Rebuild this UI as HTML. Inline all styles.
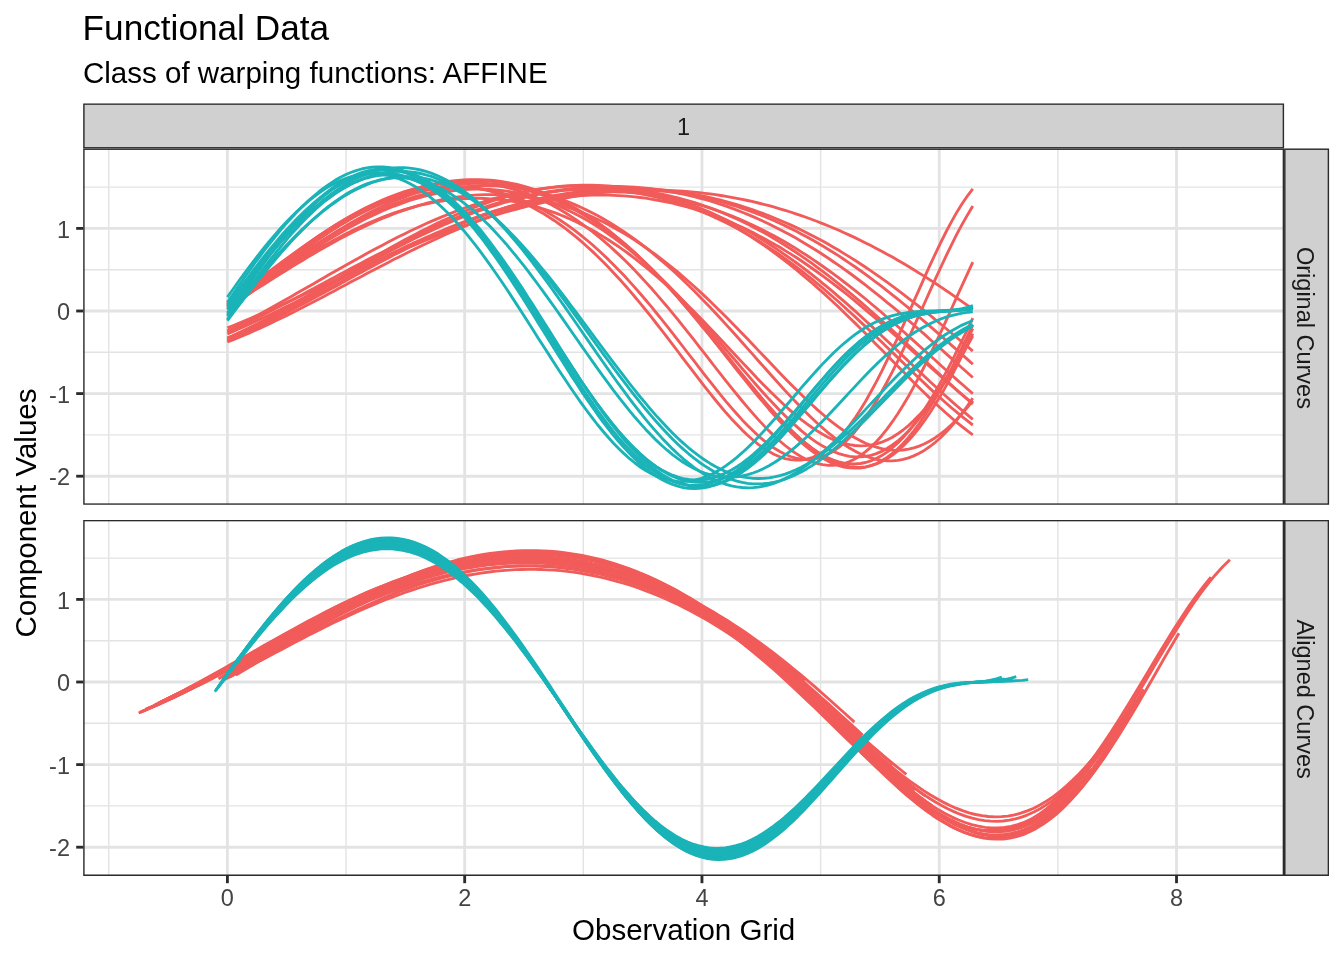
<!DOCTYPE html>
<html><head><meta charset="utf-8"><title>Functional Data</title>
<style>
html,body{margin:0;padding:0;background:#fff;}
svg{display:block;will-change:transform;}
text{font-family:"Liberation Sans",sans-serif;}
.g1{stroke:#E3E3E3;stroke-width:2.85;fill:none;}
.g2{stroke:#E3E3E3;stroke-width:1.4;fill:none;}
.r{stroke:#F15B59;stroke-width:2.85;fill:none;stroke-linejoin:round;}
.c{stroke:#19B3B8;stroke-width:2.85;fill:none;stroke-linejoin:round;}
.tk{stroke:#2B2B2B;stroke-width:2.85;fill:none;}
.tl{font-size:23.5px;fill:#444444;}
.al{font-size:29.55px;fill:#000;}
.st{font-size:23.5px;fill:#1A1A1A;}
</style></head><body>
<svg width="1344" height="960" viewBox="0 0 1344 960">
<rect x="0" y="0" width="1344" height="960" fill="#fff"/>
<defs>
<clipPath id="c1"><rect x="83.2" y="148.5" width="1200.8999999999999" height="356.3"/></clipPath>
<clipPath id="c2"><rect x="83.2" y="519.9" width="1200.8999999999999" height="356.0"/></clipPath>
</defs>

<g clip-path="url(#c1)">
<line class="g2" x1="108.76" x2="108.76" y1="148.5" y2="504.8"/>
<line class="g2" x1="346.04" x2="346.04" y1="148.5" y2="504.8"/>
<line class="g2" x1="583.32" x2="583.32" y1="148.5" y2="504.8"/>
<line class="g2" x1="820.60" x2="820.60" y1="148.5" y2="504.8"/>
<line class="g2" x1="1057.88" x2="1057.88" y1="148.5" y2="504.8"/>
<line class="g2" x1="83.2" x2="1284.1" y1="187.10" y2="187.10"/>
<line class="g2" x1="83.2" x2="1284.1" y1="269.70" y2="269.70"/>
<line class="g2" x1="83.2" x2="1284.1" y1="352.30" y2="352.30"/>
<line class="g2" x1="83.2" x2="1284.1" y1="434.90" y2="434.90"/>
<line class="g1" x1="227.40" x2="227.40" y1="148.5" y2="504.8"/>
<line class="g1" x1="464.68" x2="464.68" y1="148.5" y2="504.8"/>
<line class="g1" x1="701.96" x2="701.96" y1="148.5" y2="504.8"/>
<line class="g1" x1="939.24" x2="939.24" y1="148.5" y2="504.8"/>
<line class="g1" x1="1176.52" x2="1176.52" y1="148.5" y2="504.8"/>
<line class="g1" x1="83.2" x2="1284.1" y1="228.40" y2="228.40"/>
<line class="g1" x1="83.2" x2="1284.1" y1="311.00" y2="311.00"/>
<line class="g1" x1="83.2" x2="1284.1" y1="393.60" y2="393.60"/>
<line class="g1" x1="83.2" x2="1284.1" y1="476.20" y2="476.20"/>
</g>
<g clip-path="url(#c2)">
<line class="g2" x1="108.76" x2="108.76" y1="519.9" y2="875.9"/>
<line class="g2" x1="346.04" x2="346.04" y1="519.9" y2="875.9"/>
<line class="g2" x1="583.32" x2="583.32" y1="519.9" y2="875.9"/>
<line class="g2" x1="820.60" x2="820.60" y1="519.9" y2="875.9"/>
<line class="g2" x1="1057.88" x2="1057.88" y1="519.9" y2="875.9"/>
<line class="g2" x1="83.2" x2="1284.1" y1="558.10" y2="558.10"/>
<line class="g2" x1="83.2" x2="1284.1" y1="640.70" y2="640.70"/>
<line class="g2" x1="83.2" x2="1284.1" y1="723.30" y2="723.30"/>
<line class="g2" x1="83.2" x2="1284.1" y1="805.90" y2="805.90"/>
<line class="g1" x1="227.40" x2="227.40" y1="519.9" y2="875.9"/>
<line class="g1" x1="464.68" x2="464.68" y1="519.9" y2="875.9"/>
<line class="g1" x1="701.96" x2="701.96" y1="519.9" y2="875.9"/>
<line class="g1" x1="939.24" x2="939.24" y1="519.9" y2="875.9"/>
<line class="g1" x1="1176.52" x2="1176.52" y1="519.9" y2="875.9"/>
<line class="g1" x1="83.2" x2="1284.1" y1="599.40" y2="599.40"/>
<line class="g1" x1="83.2" x2="1284.1" y1="682.00" y2="682.00"/>
<line class="g1" x1="83.2" x2="1284.1" y1="764.60" y2="764.60"/>
<line class="g1" x1="83.2" x2="1284.1" y1="847.20" y2="847.20"/>
</g>
<g clip-path="url(#c1)">
<path class="r" d="M227.4,306.0 L232.8,301.9 L238.1,297.7 L243.5,293.5 L248.9,289.3 L254.2,285.0 L259.6,280.8 L264.9,276.5 L270.3,272.3 L275.7,268.1 L281.0,263.9 L286.4,259.8 L291.8,255.7 L297.1,251.7 L302.5,247.7 L307.8,243.8 L313.2,240.0 L318.6,236.3 L323.9,232.7 L329.3,229.1 L334.7,225.7 L340.0,222.4 L345.4,219.2 L350.7,216.2 L356.1,213.2 L361.5,210.4 L366.8,207.7 L372.2,205.2 L377.6,202.8 L382.9,200.6 L388.3,198.5 L393.6,196.6 L399.0,194.8 L404.4,193.2 L409.7,191.8 L415.1,190.5 L420.5,189.4 L425.8,188.4 L431.2,187.7 L436.6,187.1 L441.9,186.7 L447.3,186.4 L452.6,186.4 L458.0,186.5 L463.4,186.8 L468.7,187.3 L474.1,187.9 L479.5,188.8 L484.8,189.8 L490.2,191.1 L495.5,192.5 L500.9,194.1 L506.3,195.9 L511.6,197.9 L517.0,200.0 L522.4,202.4 L527.7,205.0 L533.1,207.7 L538.4,210.7 L543.8,213.8 L549.2,217.2 L554.5,220.7 L559.9,224.5 L565.3,228.4 L570.6,232.6 L576.0,236.9 L581.3,241.4 L586.7,246.2 L592.1,251.1 L597.4,256.2 L602.8,261.5 L608.2,267.0 L613.5,272.7 L618.9,278.5 L624.3,284.5 L629.6,290.6 L635.0,297.0 L640.3,303.4 L645.7,310.0 L651.1,316.7 L656.4,323.5 L661.8,330.4 L667.2,337.4 L672.5,344.4 L677.9,351.5 L683.2,358.6 L688.6,365.6 L694.0,372.7 L699.3,379.7 L704.7,386.6 L710.1,393.4 L715.4,400.0 L720.8,406.5 L726.1,412.8 L731.5,418.9 L736.9,424.6 L742.2,430.1 L747.6,435.2 L753.0,440.0 L758.3,444.3 L763.7,448.2 L769.0,451.6 L774.4,454.5 L779.8,456.8 L785.1,458.6 L790.5,459.7 L795.9,460.2 L801.2,460.0 L806.6,459.1 L812.0,457.5 L817.3,455.2 L822.7,452.1 L828.0,448.3 L833.4,443.8 L838.8,438.5 L844.1,432.4 L849.5,425.7 L854.9,418.2 L860.2,410.0 L865.6,401.2 L870.9,391.8 L876.3,381.9 L881.7,371.4 L887.0,360.4 L892.4,349.1 L897.8,337.5 L903.1,325.6 L908.5,313.5 L913.8,301.4 L919.2,289.3 L924.6,277.2 L929.9,265.4 L935.3,253.9 L940.7,242.7 L946.0,232.0 L951.4,221.9 L956.7,212.4 L962.1,203.7 L967.5,195.8 L972.8,188.8"/>
<path class="r" d="M227.4,307.7 L232.8,303.7 L238.1,299.6 L243.5,295.5 L248.9,291.4 L254.2,287.3 L259.6,283.1 L264.9,278.9 L270.3,274.8 L275.7,270.7 L281.0,266.6 L286.4,262.5 L291.8,258.5 L297.1,254.5 L302.5,250.6 L307.8,246.8 L313.2,243.0 L318.6,239.3 L323.9,235.7 L329.3,232.1 L334.7,228.7 L340.0,225.4 L345.4,222.2 L350.7,219.1 L356.1,216.1 L361.5,213.3 L366.8,210.5 L372.2,207.9 L377.6,205.5 L382.9,203.2 L388.3,201.0 L393.6,199.0 L399.0,197.1 L404.4,195.4 L409.7,193.8 L415.1,192.4 L420.5,191.2 L425.8,190.1 L431.2,189.1 L436.6,188.4 L441.9,187.8 L447.3,187.4 L452.6,187.1 L458.0,187.1 L463.4,187.2 L468.7,187.5 L474.1,187.9 L479.5,188.5 L484.8,189.3 L490.2,190.3 L495.5,191.5 L500.9,192.8 L506.3,194.4 L511.6,196.1 L517.0,198.0 L522.4,200.1 L527.7,202.4 L533.1,204.8 L538.4,207.5 L543.8,210.3 L549.2,213.4 L554.5,216.6 L559.9,220.0 L565.3,223.6 L570.6,227.4 L576.0,231.4 L581.3,235.6 L586.7,240.0 L592.1,244.5 L597.4,249.3 L602.8,254.3 L608.2,259.4 L613.5,264.7 L618.9,270.2 L624.3,275.8 L629.6,281.6 L635.0,287.6 L640.3,293.8 L645.7,300.0 L651.1,306.4 L656.4,313.0 L661.8,319.6 L667.2,326.4 L672.5,333.2 L677.9,340.1 L683.2,347.0 L688.6,354.0 L694.0,360.9 L699.3,367.9 L704.7,374.8 L710.1,381.7 L715.4,388.4 L720.8,395.1 L726.1,401.6 L731.5,407.9 L736.9,414.0 L742.2,419.9 L747.6,425.5 L753.0,430.8 L758.3,435.8 L763.7,440.4 L769.0,444.6 L774.4,448.3 L779.8,451.5 L785.1,454.3 L790.5,456.5 L795.9,458.1 L801.2,459.1 L806.6,459.5 L812.0,459.2 L817.3,458.3 L822.7,456.7 L828.0,454.3 L833.4,451.2 L838.8,447.4 L844.1,442.9 L849.5,437.7 L854.9,431.7 L860.2,425.0 L865.6,417.7 L870.9,409.6 L876.3,401.0 L881.7,391.8 L887.0,382.0 L892.4,371.7 L897.8,361.0 L903.1,349.9 L908.5,338.4 L913.8,326.8 L919.2,314.9 L924.6,303.0 L929.9,291.1 L935.3,279.2 L940.7,267.5 L946.0,256.1 L951.4,245.1 L956.7,234.4 L962.1,224.4 L967.5,214.9 L972.8,206.1"/>
<path class="r" d="M227.4,304.1 L232.8,300.0 L238.1,296.0 L243.5,291.9 L248.9,287.7 L254.2,283.6 L259.6,279.5 L264.9,275.3 L270.3,271.2 L275.7,267.1 L281.0,263.1 L286.4,259.0 L291.8,255.1 L297.1,251.1 L302.5,247.2 L307.8,243.4 L313.2,239.7 L318.6,236.0 L323.9,232.4 L329.3,228.9 L334.7,225.5 L340.0,222.2 L345.4,219.0 L350.7,215.9 L356.1,212.9 L361.5,210.0 L366.8,207.3 L372.2,204.7 L377.6,202.2 L382.9,199.8 L388.3,197.6 L393.6,195.5 L399.0,193.5 L404.4,191.7 L409.7,190.1 L415.1,188.6 L420.5,187.2 L425.8,186.0 L431.2,185.0 L436.6,184.1 L441.9,183.3 L447.3,182.8 L452.6,182.3 L458.0,182.1 L463.4,182.0 L468.7,182.1 L474.1,182.3 L479.5,182.7 L484.8,183.3 L490.2,184.1 L495.5,185.0 L500.9,186.0 L506.3,187.3 L511.6,188.7 L517.0,190.3 L522.4,192.1 L527.7,194.1 L533.1,196.2 L538.4,198.5 L543.8,201.0 L549.2,203.6 L554.5,206.5 L559.9,209.5 L565.3,212.7 L570.6,216.1 L576.0,219.6 L581.3,223.4 L586.7,227.3 L592.1,231.4 L597.4,235.7 L602.8,240.2 L608.2,244.8 L613.5,249.6 L618.9,254.6 L624.3,259.8 L629.6,265.1 L635.0,270.6 L640.3,276.3 L645.7,282.1 L651.1,288.0 L656.4,294.1 L661.8,300.4 L667.2,306.7 L672.5,313.2 L677.9,319.7 L683.2,326.4 L688.6,333.1 L694.0,339.9 L699.3,346.8 L704.7,353.7 L710.1,360.6 L715.4,367.5 L720.8,374.3 L726.1,381.1 L731.5,387.9 L736.9,394.5 L742.2,401.0 L747.6,407.4 L753.0,413.6 L758.3,419.6 L763.7,425.4 L769.0,430.9 L774.4,436.1 L779.8,441.0 L785.1,445.5 L790.5,449.7 L795.9,453.4 L801.2,456.7 L806.6,459.5 L812.0,461.8 L817.3,463.5 L822.7,464.7 L828.0,465.4 L833.4,465.4 L838.8,464.7 L844.1,463.5 L849.5,461.6 L854.9,459.0 L860.2,455.7 L865.6,451.7 L870.9,447.1 L876.3,441.7 L881.7,435.7 L887.0,429.1 L892.4,421.7 L897.8,413.8 L903.1,405.3 L908.5,396.2 L913.8,386.6 L919.2,376.5 L924.6,366.0 L929.9,355.1 L935.3,343.9 L940.7,332.4 L946.0,320.8 L951.4,309.0 L956.7,297.2 L962.1,285.4 L967.5,273.7 L972.8,262.2"/>
<path class="r" d="M227.4,309.3 L232.8,305.5 L238.1,301.6 L243.5,297.7 L248.9,293.8 L254.2,289.8 L259.6,285.8 L264.9,281.9 L270.3,277.9 L275.7,273.9 L281.0,270.0 L286.4,266.1 L291.8,262.2 L297.1,258.3 L302.5,254.5 L307.8,250.7 L313.2,247.0 L318.6,243.3 L323.9,239.7 L329.3,236.2 L334.7,232.8 L340.0,229.4 L345.4,226.1 L350.7,222.9 L356.1,219.9 L361.5,216.9 L366.8,214.0 L372.2,211.2 L377.6,208.6 L382.9,206.0 L388.3,203.6 L393.6,201.3 L399.0,199.2 L404.4,197.1 L409.7,195.2 L415.1,193.4 L420.5,191.8 L425.8,190.3 L431.2,189.0 L436.6,187.7 L441.9,186.7 L447.3,185.8 L452.6,185.0 L458.0,184.3 L463.4,183.9 L468.7,183.5 L474.1,183.4 L479.5,183.3 L484.8,183.5 L490.2,183.8 L495.5,184.2 L500.9,184.8 L506.3,185.6 L511.6,186.5 L517.0,187.6 L522.4,188.8 L527.7,190.2 L533.1,191.8 L538.4,193.6 L543.8,195.5 L549.2,197.5 L554.5,199.8 L559.9,202.2 L565.3,204.7 L570.6,207.5 L576.0,210.4 L581.3,213.5 L586.7,216.7 L592.1,220.1 L597.4,223.7 L602.8,227.5 L608.2,231.4 L613.5,235.5 L618.9,239.8 L624.3,244.2 L629.6,248.8 L635.0,253.6 L640.3,258.6 L645.7,263.7 L651.1,268.9 L656.4,274.3 L661.8,279.9 L667.2,285.6 L672.5,291.4 L677.9,297.4 L683.2,303.5 L688.6,309.7 L694.0,316.0 L699.3,322.4 L704.7,328.8 L710.1,335.4 L715.4,342.0 L720.8,348.6 L726.1,355.3 L731.5,362.0 L736.9,368.6 L742.2,375.3 L747.6,381.8 L753.0,388.3 L758.3,394.8 L763.7,401.0 L769.0,407.2 L774.4,413.2 L779.8,419.0 L785.1,424.5 L790.5,429.9 L795.9,434.9 L801.2,439.6 L806.6,444.0 L812.0,448.1 L817.3,451.7 L822.7,454.9 L828.0,457.7 L833.4,460.0 L838.8,461.8 L844.1,463.1 L849.5,463.8 L854.9,464.0 L860.2,463.5 L865.6,462.5 L870.9,460.8 L876.3,458.6 L881.7,455.6 L887.0,452.1 L892.4,447.8 L897.8,443.0 L903.1,437.5 L908.5,431.3 L913.8,424.6 L919.2,417.2 L924.6,409.3 L929.9,400.8 L935.3,391.8 L940.7,382.3 L946.0,372.4 L951.4,362.2 L956.7,351.5 L962.1,340.6 L967.5,329.5 L972.8,318.2"/>
<path class="r" d="M227.4,302.2 L232.8,298.3 L238.1,294.4 L243.5,290.5 L248.9,286.5 L254.2,282.5 L259.6,278.5 L264.9,274.5 L270.3,270.6 L275.7,266.6 L281.0,262.7 L286.4,258.8 L291.8,255.0 L297.1,251.2 L302.5,247.5 L307.8,243.8 L313.2,240.1 L318.6,236.6 L323.9,233.1 L329.3,229.7 L334.7,226.3 L340.0,223.1 L345.4,219.9 L350.7,216.9 L356.1,213.9 L361.5,211.1 L366.8,208.3 L372.2,205.7 L377.6,203.2 L382.9,200.8 L388.3,198.5 L393.6,196.4 L399.0,194.4 L404.4,192.5 L409.7,190.7 L415.1,189.1 L420.5,187.6 L425.8,186.2 L431.2,185.0 L436.6,183.9 L441.9,183.0 L447.3,182.2 L452.6,181.6 L458.0,181.1 L463.4,180.7 L468.7,180.5 L474.1,180.5 L479.5,180.6 L484.8,180.9 L490.2,181.3 L495.5,181.8 L500.9,182.5 L506.3,183.4 L511.6,184.4 L517.0,185.6 L522.4,187.0 L527.7,188.5 L533.1,190.2 L538.4,192.0 L543.8,194.0 L549.2,196.1 L554.5,198.4 L559.9,200.9 L565.3,203.6 L570.6,206.4 L576.0,209.3 L581.3,212.5 L586.7,215.8 L592.1,219.3 L597.4,222.9 L602.8,226.7 L608.2,230.7 L613.5,234.8 L618.9,239.1 L624.3,243.6 L629.6,248.2 L635.0,253.0 L640.3,258.0 L645.7,263.1 L651.1,268.3 L656.4,273.7 L661.8,279.3 L667.2,285.0 L672.5,290.8 L677.9,296.7 L683.2,302.8 L688.6,309.0 L694.0,315.3 L699.3,321.6 L704.7,328.1 L710.1,334.6 L715.4,341.2 L720.8,347.8 L726.1,354.4 L731.5,361.1 L736.9,367.8 L742.2,374.4 L747.6,381.0 L753.0,387.5 L758.3,393.9 L763.7,400.3 L769.0,406.5 L774.4,412.5 L779.8,418.4 L785.1,424.1 L790.5,429.5 L795.9,434.7 L801.2,439.6 L806.6,444.2 L812.0,448.5 L817.3,452.3 L822.7,455.9 L828.0,458.9 L833.4,461.6 L838.8,463.7 L844.1,465.4 L849.5,466.6 L854.9,467.2 L860.2,467.3 L865.6,466.8 L870.9,465.7 L876.3,464.0 L881.7,461.6 L887.0,458.7 L892.4,455.1 L897.8,450.9 L903.1,446.0 L908.5,440.6 L913.8,434.5 L919.2,427.8 L924.6,420.5 L929.9,412.7 L935.3,404.3 L940.7,395.4 L946.0,386.1 L951.4,376.3 L956.7,366.1 L962.1,355.6 L967.5,344.8 L972.8,333.7"/>
<path class="r" d="M227.4,306.6 L232.8,302.6 L238.1,298.6 L243.5,294.6 L248.9,290.5 L254.2,286.5 L259.6,282.4 L264.9,278.3 L270.3,274.2 L275.7,270.2 L281.0,266.1 L286.4,262.1 L291.8,258.2 L297.1,254.2 L302.5,250.3 L307.8,246.5 L313.2,242.7 L318.6,239.0 L323.9,235.4 L329.3,231.8 L334.7,228.3 L340.0,224.9 L345.4,221.6 L350.7,218.4 L356.1,215.3 L361.5,212.3 L366.8,209.5 L372.2,206.7 L377.6,204.0 L382.9,201.5 L388.3,199.1 L393.6,196.8 L399.0,194.7 L404.4,192.7 L409.7,190.8 L415.1,189.0 L420.5,187.4 L425.8,186.0 L431.2,184.7 L436.6,183.5 L441.9,182.5 L447.3,181.6 L452.6,180.9 L458.0,180.3 L463.4,179.9 L468.7,179.7 L474.1,179.6 L479.5,179.6 L484.8,179.8 L490.2,180.2 L495.5,180.7 L500.9,181.4 L506.3,182.3 L511.6,183.3 L517.0,184.5 L522.4,185.8 L527.7,187.3 L533.1,189.0 L538.4,190.8 L543.8,192.8 L549.2,195.0 L554.5,197.4 L559.9,199.9 L565.3,202.5 L570.6,205.4 L576.0,208.4 L581.3,211.6 L586.7,215.0 L592.1,218.5 L597.4,222.2 L602.8,226.1 L608.2,230.1 L613.5,234.4 L618.9,238.8 L624.3,243.3 L629.6,248.0 L635.0,252.9 L640.3,258.0 L645.7,263.2 L651.1,268.6 L656.4,274.1 L661.8,279.7 L667.2,285.6 L672.5,291.5 L677.9,297.6 L683.2,303.8 L688.6,310.1 L694.0,316.5 L699.3,323.0 L704.7,329.6 L710.1,336.2 L715.4,342.9 L720.8,349.6 L726.1,356.4 L731.5,363.2 L736.9,370.0 L742.2,376.7 L747.6,383.4 L753.0,390.0 L758.3,396.5 L763.7,402.9 L769.0,409.2 L774.4,415.3 L779.8,421.2 L785.1,426.9 L790.5,432.3 L795.9,437.5 L801.2,442.3 L806.6,446.9 L812.0,451.0 L817.3,454.8 L822.7,458.2 L828.0,461.1 L833.4,463.6 L838.8,465.6 L844.1,467.0 L849.5,467.9 L854.9,468.2 L860.2,468.0 L865.6,467.1 L870.9,465.7 L876.3,463.6 L881.7,460.8 L887.0,457.4 L892.4,453.4 L897.8,448.7 L903.1,443.4 L908.5,437.4 L913.8,430.8 L919.2,423.6 L924.6,415.8 L929.9,407.4 L935.3,398.5 L940.7,389.1 L946.0,379.3 L951.4,369.0 L956.7,358.4 L962.1,347.4 L967.5,336.2 L972.8,324.8"/>
<path class="r" d="M227.4,305.7 L232.8,302.4 L238.1,299.0 L243.5,295.6 L248.9,292.1 L254.2,288.7 L259.6,285.2 L264.9,281.8 L270.3,278.4 L275.7,274.9 L281.0,271.5 L286.4,268.2 L291.8,264.8 L297.1,261.5 L302.5,258.2 L307.8,255.0 L313.2,251.8 L318.6,248.7 L323.9,245.6 L329.3,242.7 L334.7,239.7 L340.0,236.9 L345.4,234.1 L350.7,231.4 L356.1,228.8 L361.5,226.3 L366.8,223.8 L372.2,221.5 L377.6,219.3 L382.9,217.1 L388.3,215.1 L393.6,213.2 L399.0,211.4 L404.4,209.7 L409.7,208.1 L415.1,206.6 L420.5,205.2 L425.8,204.0 L431.2,202.8 L436.6,201.8 L441.9,201.0 L447.3,200.2 L452.6,199.6 L458.0,199.1 L463.4,198.7 L468.7,198.5 L474.1,198.3 L479.5,198.4 L484.8,198.5 L490.2,198.8 L495.5,199.2 L500.9,199.7 L506.3,200.4 L511.6,201.2 L517.0,202.2 L522.4,203.3 L527.7,204.5 L533.1,205.8 L538.4,207.3 L543.8,209.0 L549.2,210.8 L554.5,212.7 L559.9,214.7 L565.3,216.9 L570.6,219.3 L576.0,221.8 L581.3,224.4 L586.7,227.2 L592.1,230.1 L597.4,233.1 L602.8,236.4 L608.2,239.7 L613.5,243.2 L618.9,246.8 L624.3,250.6 L629.6,254.5 L635.0,258.6 L640.3,262.8 L645.7,267.1 L651.1,271.6 L656.4,276.2 L661.8,280.9 L667.2,285.7 L672.5,290.7 L677.9,295.8 L683.2,300.9 L688.6,306.2 L694.0,311.6 L699.3,317.0 L704.7,322.6 L710.1,328.2 L715.4,333.8 L720.8,339.5 L726.1,345.2 L731.5,351.0 L736.9,356.7 L742.2,362.4 L747.6,368.1 L753.0,373.8 L758.3,379.4 L763.7,384.9 L769.0,390.3 L774.4,395.6 L779.8,400.8 L785.1,405.8 L790.5,410.6 L795.9,415.2 L801.2,419.6 L806.6,423.7 L812.0,427.5 L817.3,431.1 L822.7,434.3 L828.0,437.2 L833.4,439.7 L838.8,441.8 L844.1,443.5 L849.5,444.7 L854.9,445.5 L860.2,445.9 L865.6,445.7 L870.9,445.1 L876.3,443.9 L881.7,442.2 L887.0,439.9 L892.4,437.2 L897.8,433.8 L903.1,430.0 L908.5,425.6 L913.8,420.6 L919.2,415.1 L924.6,409.1 L929.9,402.7 L935.3,395.7 L940.7,388.3 L946.0,380.4 L951.4,372.2 L956.7,363.6 L962.1,354.7 L967.5,345.5 L972.8,336.0"/>
<path class="r" d="M227.4,308.6 L232.8,304.9 L238.1,301.3 L243.5,297.5 L248.9,293.8 L254.2,290.1 L259.6,286.3 L264.9,282.5 L270.3,278.8 L275.7,275.0 L281.0,271.3 L286.4,267.5 L291.8,263.8 L297.1,260.2 L302.5,256.6 L307.8,253.0 L313.2,249.5 L318.6,246.0 L323.9,242.6 L329.3,239.3 L334.7,236.0 L340.0,232.9 L345.4,229.8 L350.7,226.8 L356.1,223.9 L361.5,221.0 L366.8,218.3 L372.2,215.7 L377.6,213.2 L382.9,210.8 L388.3,208.5 L393.6,206.3 L399.0,204.3 L404.4,202.3 L409.7,200.5 L415.1,198.8 L420.5,197.3 L425.8,195.9 L431.2,194.6 L436.6,193.4 L441.9,192.4 L447.3,191.5 L452.6,190.8 L458.0,190.2 L463.4,189.7 L468.7,189.4 L474.1,189.2 L479.5,189.1 L484.8,189.3 L490.2,189.5 L495.5,189.9 L500.9,190.5 L506.3,191.2 L511.6,192.0 L517.0,193.0 L522.4,194.2 L527.7,195.5 L533.1,196.9 L538.4,198.5 L543.8,200.3 L549.2,202.2 L554.5,204.3 L559.9,206.5 L565.3,208.9 L570.6,211.5 L576.0,214.2 L581.3,217.0 L586.7,220.1 L592.1,223.3 L597.4,226.6 L602.8,230.1 L608.2,233.8 L613.5,237.6 L618.9,241.6 L624.3,245.7 L629.6,250.0 L635.0,254.5 L640.3,259.1 L645.7,263.8 L651.1,268.8 L656.4,273.8 L661.8,279.0 L667.2,284.3 L672.5,289.8 L677.9,295.3 L683.2,301.0 L688.6,306.9 L694.0,312.8 L699.3,318.8 L704.7,324.8 L710.1,331.0 L715.4,337.2 L720.8,343.5 L726.1,349.7 L731.5,356.0 L736.9,362.3 L742.2,368.6 L747.6,374.9 L753.0,381.1 L758.3,387.2 L763.7,393.2 L769.0,399.1 L774.4,404.8 L779.8,410.4 L785.1,415.8 L790.5,421.0 L795.9,425.9 L801.2,430.6 L806.6,435.0 L812.0,439.1 L817.3,442.8 L822.7,446.1 L828.0,449.0 L833.4,451.5 L838.8,453.6 L844.1,455.2 L849.5,456.3 L854.9,456.9 L860.2,456.9 L865.6,456.4 L870.9,455.3 L876.3,453.6 L881.7,451.4 L887.0,448.5 L892.4,445.0 L897.8,441.0 L903.1,436.3 L908.5,431.0 L913.8,425.1 L919.2,418.7 L924.6,411.7 L929.9,404.2 L935.3,396.1 L940.7,387.6 L946.0,378.6 L951.4,369.3 L956.7,359.5 L962.1,349.5 L967.5,339.2 L972.8,328.6"/>
<path class="r" d="M227.4,303.4 L232.8,299.8 L238.1,296.2 L243.5,292.6 L248.9,288.9 L254.2,285.3 L259.6,281.6 L264.9,277.9 L270.3,274.3 L275.7,270.6 L281.0,267.0 L286.4,263.4 L291.8,259.9 L297.1,256.4 L302.5,252.9 L307.8,249.4 L313.2,246.0 L318.6,242.7 L323.9,239.4 L329.3,236.2 L334.7,233.1 L340.0,230.0 L345.4,227.0 L350.7,224.1 L356.1,221.3 L361.5,218.6 L366.8,215.9 L372.2,213.4 L377.6,210.9 L382.9,208.5 L388.3,206.3 L393.6,204.1 L399.0,202.1 L404.4,200.2 L409.7,198.4 L415.1,196.7 L420.5,195.1 L425.8,193.6 L431.2,192.3 L436.6,191.0 L441.9,189.9 L447.3,188.9 L452.6,188.1 L458.0,187.4 L463.4,186.8 L468.7,186.3 L474.1,185.9 L479.5,185.7 L484.8,185.7 L490.2,185.7 L495.5,185.9 L500.9,186.2 L506.3,186.7 L511.6,187.3 L517.0,188.0 L522.4,188.8 L527.7,189.8 L533.1,191.0 L538.4,192.3 L543.8,193.7 L549.2,195.2 L554.5,196.9 L559.9,198.8 L565.3,200.7 L570.6,202.8 L576.0,205.1 L581.3,207.5 L586.7,210.1 L592.1,212.8 L597.4,215.6 L602.8,218.6 L608.2,221.7 L613.5,225.0 L618.9,228.4 L624.3,231.9 L629.6,235.6 L635.0,239.5 L640.3,243.5 L645.7,247.6 L651.1,251.9 L656.4,256.3 L661.8,260.8 L667.2,265.5 L672.5,270.3 L677.9,275.2 L683.2,280.3 L688.6,285.5 L694.0,290.8 L699.3,296.2 L704.7,301.7 L710.1,307.3 L715.4,313.0 L720.8,318.8 L726.1,324.6 L731.5,330.5 L736.9,336.5 L742.2,342.5 L747.6,348.6 L753.0,354.6 L758.3,360.7 L763.7,366.8 L769.0,372.8 L774.4,378.8 L779.8,384.7 L785.1,390.6 L790.5,396.4 L795.9,402.0 L801.2,407.6 L806.6,413.0 L812.0,418.2 L817.3,423.2 L822.7,428.0 L828.0,432.6 L833.4,436.9 L838.8,440.9 L844.1,444.6 L849.5,448.0 L854.9,451.1 L860.2,453.7 L865.6,456.0 L870.9,457.9 L876.3,459.3 L881.7,460.3 L887.0,460.8 L892.4,460.9 L897.8,460.4 L903.1,459.4 L908.5,457.9 L913.8,455.9 L919.2,453.3 L924.6,450.2 L929.9,446.5 L935.3,442.3 L940.7,437.5 L946.0,432.2 L951.4,426.4 L956.7,420.0 L962.1,413.2 L967.5,405.9 L972.8,398.1"/>
<path class="r" d="M227.4,307.1 L232.8,303.8 L238.1,300.5 L243.5,297.2 L248.9,293.8 L254.2,290.4 L259.6,287.1 L264.9,283.7 L270.3,280.3 L275.7,276.9 L281.0,273.6 L286.4,270.2 L291.8,266.9 L297.1,263.6 L302.5,260.4 L307.8,257.1 L313.2,254.0 L318.6,250.8 L323.9,247.7 L329.3,244.7 L334.7,241.7 L340.0,238.8 L345.4,236.0 L350.7,233.2 L356.1,230.5 L361.5,227.9 L366.8,225.4 L372.2,222.9 L377.6,220.5 L382.9,218.3 L388.3,216.1 L393.6,214.0 L399.0,212.0 L404.4,210.1 L409.7,208.3 L415.1,206.6 L420.5,205.0 L425.8,203.5 L431.2,202.1 L436.6,200.9 L441.9,199.7 L447.3,198.7 L452.6,197.8 L458.0,197.0 L463.4,196.3 L468.7,195.7 L474.1,195.2 L479.5,194.9 L484.8,194.7 L490.2,194.6 L495.5,194.6 L500.9,194.8 L506.3,195.0 L511.6,195.4 L517.0,196.0 L522.4,196.6 L527.7,197.4 L533.1,198.3 L538.4,199.3 L543.8,200.5 L549.2,201.8 L554.5,203.2 L559.9,204.7 L565.3,206.4 L570.6,208.2 L576.0,210.1 L581.3,212.2 L586.7,214.4 L592.1,216.7 L597.4,219.2 L602.8,221.8 L608.2,224.5 L613.5,227.4 L618.9,230.4 L624.3,233.6 L629.6,236.8 L635.0,240.2 L640.3,243.8 L645.7,247.5 L651.1,251.3 L656.4,255.2 L661.8,259.3 L667.2,263.5 L672.5,267.8 L677.9,272.2 L683.2,276.8 L688.6,281.5 L694.0,286.2 L699.3,291.1 L704.7,296.1 L710.1,301.2 L715.4,306.4 L720.8,311.7 L726.1,317.1 L731.5,322.5 L736.9,328.0 L742.2,333.5 L747.6,339.1 L753.0,344.7 L758.3,350.4 L763.7,356.0 L769.0,361.6 L774.4,367.3 L779.8,372.9 L785.1,378.4 L790.5,383.9 L795.9,389.2 L801.2,394.5 L806.6,399.7 L812.0,404.7 L817.3,409.6 L822.7,414.3 L828.0,418.8 L833.4,423.1 L838.8,427.2 L844.1,431.0 L849.5,434.5 L854.9,437.7 L860.2,440.6 L865.6,443.2 L870.9,445.4 L876.3,447.2 L881.7,448.6 L887.0,449.7 L892.4,450.2 L897.8,450.4 L903.1,450.0 L908.5,449.2 L913.8,447.9 L919.2,446.1 L924.6,443.8 L929.9,441.0 L935.3,437.7 L940.7,433.9 L946.0,429.6 L951.4,424.8 L956.7,419.4 L962.1,413.6 L967.5,407.4 L972.8,400.7"/>
<path class="r" d="M227.4,327.9 L232.8,325.7 L238.1,323.5 L243.5,321.3 L248.9,319.0 L254.2,316.8 L259.6,314.5 L264.9,312.1 L270.3,309.8 L275.7,307.4 L281.0,305.0 L286.4,302.6 L291.8,300.1 L297.1,297.7 L302.5,295.2 L307.8,292.8 L313.2,290.3 L318.6,287.8 L323.9,285.4 L329.3,282.9 L334.7,280.4 L340.0,277.9 L345.4,275.5 L350.7,273.0 L356.1,270.5 L361.5,268.1 L366.8,265.7 L372.2,263.3 L377.6,260.9 L382.9,258.5 L388.3,256.1 L393.6,253.8 L399.0,251.4 L404.4,249.1 L409.7,246.9 L415.1,244.6 L420.5,242.4 L425.8,240.2 L431.2,238.1 L436.6,236.0 L441.9,233.9 L447.3,231.8 L452.6,229.8 L458.0,227.8 L463.4,225.9 L468.7,224.0 L474.1,222.1 L479.5,220.3 L484.8,218.6 L490.2,216.9 L495.5,215.2 L500.9,213.5 L506.3,212.0 L511.6,210.4 L517.0,209.0 L522.4,207.5 L527.7,206.2 L533.1,204.8 L538.4,203.6 L543.8,202.3 L549.2,201.2 L554.5,200.1 L559.9,199.0 L565.3,198.0 L570.6,197.1 L576.0,196.2 L581.3,195.4 L586.7,194.6 L592.1,193.9 L597.4,193.2 L602.8,192.7 L608.2,192.1 L613.5,191.7 L618.9,191.3 L624.3,190.9 L629.6,190.6 L635.0,190.4 L640.3,190.2 L645.7,190.1 L651.1,190.1 L656.4,190.1 L661.8,190.2 L667.2,190.4 L672.5,190.6 L677.9,190.9 L683.2,191.2 L688.6,191.6 L694.0,192.1 L699.3,192.7 L704.7,193.3 L710.1,193.9 L715.4,194.7 L720.8,195.5 L726.1,196.4 L731.5,197.3 L736.9,198.3 L742.2,199.4 L747.6,200.5 L753.0,201.7 L758.3,203.0 L763.7,204.3 L769.0,205.7 L774.4,207.2 L779.8,208.8 L785.1,210.4 L790.5,212.0 L795.9,213.8 L801.2,215.6 L806.6,217.5 L812.0,219.5 L817.3,221.5 L822.7,223.6 L828.0,225.8 L833.4,228.0 L838.8,230.3 L844.1,232.7 L849.5,235.1 L854.9,237.6 L860.2,240.2 L865.6,242.9 L870.9,245.6 L876.3,248.4 L881.7,251.2 L887.0,254.2 L892.4,257.1 L897.8,260.2 L903.1,263.3 L908.5,266.5 L913.8,269.7 L919.2,273.1 L924.6,276.4 L929.9,279.9 L935.3,283.3 L940.7,286.9 L946.0,290.5 L951.4,294.1 L956.7,297.9 L962.1,301.6 L967.5,305.4 L972.8,309.3"/>
<path class="r" d="M227.4,333.9 L232.8,331.6 L238.1,329.3 L243.5,326.9 L248.9,324.5 L254.2,322.0 L259.6,319.5 L264.9,317.0 L270.3,314.5 L275.7,311.9 L281.0,309.2 L286.4,306.6 L291.8,303.9 L297.1,301.2 L302.5,298.5 L307.8,295.8 L313.2,293.1 L318.6,290.3 L323.9,287.6 L329.3,284.9 L334.7,282.1 L340.0,279.4 L345.4,276.6 L350.7,273.9 L356.1,271.2 L361.5,268.4 L366.8,265.7 L372.2,263.1 L377.6,260.4 L382.9,257.7 L388.3,255.1 L393.6,252.5 L399.0,250.0 L404.4,247.4 L409.7,244.9 L415.1,242.4 L420.5,240.0 L425.8,237.6 L431.2,235.3 L436.6,232.9 L441.9,230.7 L447.3,228.4 L452.6,226.3 L458.0,224.1 L463.4,222.0 L468.7,220.0 L474.1,218.0 L479.5,216.1 L484.8,214.2 L490.2,212.4 L495.5,210.7 L500.9,209.0 L506.3,207.3 L511.6,205.8 L517.0,204.3 L522.4,202.8 L527.7,201.4 L533.1,200.1 L538.4,198.9 L543.8,197.7 L549.2,196.6 L554.5,195.5 L559.9,194.6 L565.3,193.7 L570.6,192.8 L576.0,192.1 L581.3,191.4 L586.7,190.8 L592.1,190.2 L597.4,189.7 L602.8,189.4 L608.2,189.0 L613.5,188.8 L618.9,188.6 L624.3,188.5 L629.6,188.5 L635.0,188.6 L640.3,188.7 L645.7,188.9 L651.1,189.2 L656.4,189.6 L661.8,190.0 L667.2,190.5 L672.5,191.1 L677.9,191.8 L683.2,192.6 L688.6,193.4 L694.0,194.4 L699.3,195.4 L704.7,196.4 L710.1,197.6 L715.4,198.9 L720.8,200.2 L726.1,201.6 L731.5,203.1 L736.9,204.6 L742.2,206.3 L747.6,208.0 L753.0,209.9 L758.3,211.8 L763.7,213.7 L769.0,215.8 L774.4,218.0 L779.8,220.2 L785.1,222.5 L790.5,224.9 L795.9,227.4 L801.2,230.0 L806.6,232.7 L812.0,235.4 L817.3,238.2 L822.7,241.1 L828.0,244.1 L833.4,247.2 L838.8,250.3 L844.1,253.6 L849.5,256.9 L854.9,260.3 L860.2,263.7 L865.6,267.3 L870.9,270.9 L876.3,274.6 L881.7,278.4 L887.0,282.2 L892.4,286.1 L897.8,290.1 L903.1,294.2 L908.5,298.3 L913.8,302.4 L919.2,306.7 L924.6,310.9 L929.9,315.2 L935.3,319.6 L940.7,324.0 L946.0,328.5 L951.4,333.0 L956.7,337.5 L962.1,342.0 L967.5,346.5 L972.8,351.1"/>
<path class="r" d="M227.4,342.0 L232.8,339.9 L238.1,337.7 L243.5,335.5 L248.9,333.2 L254.2,330.8 L259.6,328.4 L264.9,325.9 L270.3,323.4 L275.7,320.8 L281.0,318.2 L286.4,315.6 L291.8,312.9 L297.1,310.2 L302.5,307.5 L307.8,304.7 L313.2,302.0 L318.6,299.2 L323.9,296.4 L329.3,293.5 L334.7,290.7 L340.0,287.8 L345.4,285.0 L350.7,282.1 L356.1,279.3 L361.5,276.4 L366.8,273.6 L372.2,270.8 L377.6,268.0 L382.9,265.2 L388.3,262.4 L393.6,259.6 L399.0,256.9 L404.4,254.2 L409.7,251.5 L415.1,248.9 L420.5,246.3 L425.8,243.7 L431.2,241.2 L436.6,238.7 L441.9,236.2 L447.3,233.8 L452.6,231.4 L458.0,229.1 L463.4,226.9 L468.7,224.6 L474.1,222.5 L479.5,220.4 L484.8,218.3 L490.2,216.4 L495.5,214.4 L500.9,212.6 L506.3,210.8 L511.6,209.1 L517.0,207.4 L522.4,205.8 L527.7,204.3 L533.1,202.8 L538.4,201.4 L543.8,200.1 L549.2,198.9 L554.5,197.7 L559.9,196.6 L565.3,195.6 L570.6,194.7 L576.0,193.8 L581.3,193.0 L586.7,192.3 L592.1,191.7 L597.4,191.1 L602.8,190.7 L608.2,190.3 L613.5,190.0 L618.9,189.8 L624.3,189.6 L629.6,189.6 L635.0,189.6 L640.3,189.7 L645.7,189.9 L651.1,190.2 L656.4,190.5 L661.8,191.0 L667.2,191.5 L672.5,192.2 L677.9,192.9 L683.2,193.7 L688.6,194.5 L694.0,195.5 L699.3,196.6 L704.7,197.7 L710.1,199.0 L715.4,200.3 L720.8,201.7 L726.1,203.2 L731.5,204.8 L736.9,206.5 L742.2,208.3 L747.6,210.1 L753.0,212.1 L758.3,214.1 L763.7,216.3 L769.0,218.5 L774.4,220.8 L779.8,223.3 L785.1,225.8 L790.5,228.4 L795.9,231.1 L801.2,233.9 L806.6,236.7 L812.0,239.7 L817.3,242.8 L822.7,245.9 L828.0,249.2 L833.4,252.5 L838.8,255.9 L844.1,259.5 L849.5,263.1 L854.9,266.8 L860.2,270.5 L865.6,274.4 L870.9,278.3 L876.3,282.3 L881.7,286.4 L887.0,290.6 L892.4,294.8 L897.8,299.1 L903.1,303.5 L908.5,307.9 L913.8,312.4 L919.2,317.0 L924.6,321.6 L929.9,326.2 L935.3,330.9 L940.7,335.6 L946.0,340.3 L951.4,345.1 L956.7,349.8 L962.1,354.6 L967.5,359.4 L972.8,364.2"/>
<path class="r" d="M227.4,332.1 L232.8,329.6 L238.1,327.2 L243.5,324.6 L248.9,322.0 L254.2,319.4 L259.6,316.8 L264.9,314.1 L270.3,311.3 L275.7,308.6 L281.0,305.8 L286.4,303.0 L291.8,300.2 L297.1,297.3 L302.5,294.5 L307.8,291.6 L313.2,288.7 L318.6,285.8 L323.9,283.0 L329.3,280.1 L334.7,277.2 L340.0,274.3 L345.4,271.4 L350.7,268.6 L356.1,265.7 L361.5,262.9 L366.8,260.1 L372.2,257.3 L377.6,254.6 L382.9,251.9 L388.3,249.2 L393.6,246.5 L399.0,243.9 L404.4,241.3 L409.7,238.7 L415.1,236.2 L420.5,233.7 L425.8,231.3 L431.2,228.9 L436.6,226.6 L441.9,224.3 L447.3,222.1 L452.6,219.9 L458.0,217.8 L463.4,215.7 L468.7,213.7 L474.1,211.8 L479.5,209.9 L484.8,208.1 L490.2,206.3 L495.5,204.7 L500.9,203.0 L506.3,201.5 L511.6,200.0 L517.0,198.6 L522.4,197.3 L527.7,196.0 L533.1,194.8 L538.4,193.7 L543.8,192.7 L549.2,191.7 L554.5,190.8 L559.9,190.0 L565.3,189.3 L570.6,188.7 L576.0,188.1 L581.3,187.6 L586.7,187.2 L592.1,186.9 L597.4,186.6 L602.8,186.5 L608.2,186.4 L613.5,186.4 L618.9,186.5 L624.3,186.6 L629.6,186.9 L635.0,187.2 L640.3,187.6 L645.7,188.1 L651.1,188.7 L656.4,189.4 L661.8,190.2 L667.2,191.0 L672.5,192.0 L677.9,193.0 L683.2,194.1 L688.6,195.3 L694.0,196.6 L699.3,198.0 L704.7,199.4 L710.1,201.0 L715.4,202.6 L720.8,204.3 L726.1,206.2 L731.5,208.1 L736.9,210.1 L742.2,212.2 L747.6,214.4 L753.0,216.6 L758.3,219.0 L763.7,221.5 L769.0,224.0 L774.4,226.7 L779.8,229.4 L785.1,232.2 L790.5,235.1 L795.9,238.1 L801.2,241.2 L806.6,244.4 L812.0,247.7 L817.3,251.0 L822.7,254.5 L828.0,258.0 L833.4,261.7 L838.8,265.4 L844.1,269.2 L849.5,273.0 L854.9,277.0 L860.2,281.0 L865.6,285.1 L870.9,289.3 L876.3,293.6 L881.7,297.9 L887.0,302.3 L892.4,306.7 L897.8,311.2 L903.1,315.8 L908.5,320.4 L913.8,325.0 L919.2,329.7 L924.6,334.4 L929.9,339.2 L935.3,344.0 L940.7,348.8 L946.0,353.6 L951.4,358.4 L956.7,363.2 L962.1,368.0 L967.5,372.8 L972.8,377.5"/>
<path class="r" d="M227.4,340.5 L232.8,338.3 L238.1,336.0 L243.5,333.6 L248.9,331.2 L254.2,328.7 L259.6,326.1 L264.9,323.6 L270.3,320.9 L275.7,318.2 L281.0,315.5 L286.4,312.8 L291.8,310.0 L297.1,307.1 L302.5,304.3 L307.8,301.4 L313.2,298.5 L318.6,295.6 L323.9,292.7 L329.3,289.8 L334.7,286.9 L340.0,283.9 L345.4,281.0 L350.7,278.1 L356.1,275.1 L361.5,272.2 L366.8,269.3 L372.2,266.4 L377.6,263.6 L382.9,260.7 L388.3,257.9 L393.6,255.1 L399.0,252.4 L404.4,249.7 L409.7,247.0 L415.1,244.4 L420.5,241.8 L425.8,239.2 L431.2,236.7 L436.6,234.2 L441.9,231.8 L447.3,229.5 L452.6,227.2 L458.0,224.9 L463.4,222.8 L468.7,220.7 L474.1,218.6 L479.5,216.6 L484.8,214.7 L490.2,212.8 L495.5,211.1 L500.9,209.3 L506.3,207.7 L511.6,206.1 L517.0,204.7 L522.4,203.3 L527.7,201.9 L533.1,200.7 L538.4,199.5 L543.8,198.4 L549.2,197.4 L554.5,196.5 L559.9,195.6 L565.3,194.9 L570.6,194.2 L576.0,193.6 L581.3,193.1 L586.7,192.7 L592.1,192.3 L597.4,192.1 L602.8,192.0 L608.2,191.9 L613.5,191.9 L618.9,192.0 L624.3,192.2 L629.6,192.5 L635.0,192.9 L640.3,193.4 L645.7,194.0 L651.1,194.6 L656.4,195.4 L661.8,196.2 L667.2,197.2 L672.5,198.2 L677.9,199.3 L683.2,200.6 L688.6,201.9 L694.0,203.3 L699.3,204.8 L704.7,206.4 L710.1,208.1 L715.4,209.9 L720.8,211.8 L726.1,213.8 L731.5,215.9 L736.9,218.1 L742.2,220.4 L747.6,222.7 L753.0,225.2 L758.3,227.8 L763.7,230.5 L769.0,233.2 L774.4,236.1 L779.8,239.1 L785.1,242.1 L790.5,245.3 L795.9,248.5 L801.2,251.9 L806.6,255.3 L812.0,258.9 L817.3,262.5 L822.7,266.2 L828.0,270.0 L833.4,273.9 L838.8,277.9 L844.1,282.0 L849.5,286.1 L854.9,290.4 L860.2,294.7 L865.6,299.0 L870.9,303.5 L876.3,308.0 L881.7,312.5 L887.0,317.2 L892.4,321.8 L897.8,326.5 L903.1,331.3 L908.5,336.1 L913.8,340.9 L919.2,345.8 L924.6,350.6 L929.9,355.5 L935.3,360.3 L940.7,365.2 L946.0,370.0 L951.4,374.8 L956.7,379.6 L962.1,384.3 L967.5,389.0 L972.8,393.6"/>
<path class="r" d="M227.4,338.1 L232.8,335.7 L238.1,333.3 L243.5,330.7 L248.9,328.1 L254.2,325.5 L259.6,322.8 L264.9,320.0 L270.3,317.2 L275.7,314.4 L281.0,311.6 L286.4,308.7 L291.8,305.7 L297.1,302.8 L302.5,299.8 L307.8,296.8 L313.2,293.8 L318.6,290.8 L323.9,287.7 L329.3,284.7 L334.7,281.7 L340.0,278.7 L345.4,275.6 L350.7,272.6 L356.1,269.6 L361.5,266.6 L366.8,263.7 L372.2,260.7 L377.6,257.8 L382.9,254.9 L388.3,252.0 L393.6,249.2 L399.0,246.4 L404.4,243.7 L409.7,241.0 L415.1,238.3 L420.5,235.7 L425.8,233.1 L431.2,230.6 L436.6,228.1 L441.9,225.7 L447.3,223.4 L452.6,221.1 L458.0,218.9 L463.4,216.7 L468.7,214.7 L474.1,212.6 L479.5,210.7 L484.8,208.8 L490.2,207.0 L495.5,205.3 L500.9,203.6 L506.3,202.0 L511.6,200.6 L517.0,199.1 L522.4,197.8 L527.7,196.6 L533.1,195.4 L538.4,194.3 L543.8,193.3 L549.2,192.4 L554.5,191.6 L559.9,190.8 L565.3,190.2 L570.6,189.6 L576.0,189.1 L581.3,188.8 L586.7,188.5 L592.1,188.3 L597.4,188.2 L602.8,188.2 L608.2,188.2 L613.5,188.4 L618.9,188.7 L624.3,189.0 L629.6,189.5 L635.0,190.0 L640.3,190.7 L645.7,191.4 L651.1,192.3 L656.4,193.2 L661.8,194.2 L667.2,195.3 L672.5,196.6 L677.9,197.9 L683.2,199.3 L688.6,200.8 L694.0,202.4 L699.3,204.2 L704.7,206.0 L710.1,207.9 L715.4,209.9 L720.8,212.0 L726.1,214.2 L731.5,216.6 L736.9,219.0 L742.2,221.5 L747.6,224.1 L753.0,226.9 L758.3,229.7 L763.7,232.6 L769.0,235.6 L774.4,238.8 L779.8,242.0 L785.1,245.3 L790.5,248.7 L795.9,252.3 L801.2,255.9 L806.6,259.6 L812.0,263.4 L817.3,267.3 L822.7,271.3 L828.0,275.4 L833.4,279.6 L838.8,283.8 L844.1,288.2 L849.5,292.6 L854.9,297.1 L860.2,301.6 L865.6,306.3 L870.9,311.0 L876.3,315.7 L881.7,320.5 L887.0,325.4 L892.4,330.3 L897.8,335.3 L903.1,340.2 L908.5,345.2 L913.8,350.2 L919.2,355.3 L924.6,360.3 L929.9,365.3 L935.3,370.3 L940.7,375.3 L946.0,380.2 L951.4,385.1 L956.7,390.0 L962.1,394.8 L967.5,399.5 L972.8,404.1"/>
<path class="r" d="M227.4,338.3 L232.8,336.1 L238.1,333.8 L243.5,331.4 L248.9,329.0 L254.2,326.5 L259.6,324.0 L264.9,321.4 L270.3,318.8 L275.7,316.1 L281.0,313.4 L286.4,310.7 L291.8,307.9 L297.1,305.1 L302.5,302.3 L307.8,299.5 L313.2,296.6 L318.6,293.7 L323.9,290.8 L329.3,287.9 L334.7,285.1 L340.0,282.2 L345.4,279.3 L350.7,276.4 L356.1,273.5 L361.5,270.7 L366.8,267.8 L372.2,265.0 L377.6,262.2 L382.9,259.4 L388.3,256.7 L393.6,254.0 L399.0,251.3 L404.4,248.6 L409.7,246.0 L415.1,243.5 L420.5,241.0 L425.8,238.5 L431.2,236.1 L436.6,233.7 L441.9,231.4 L447.3,229.1 L452.6,226.9 L458.0,224.8 L463.4,222.7 L468.7,220.7 L474.1,218.8 L479.5,216.9 L484.8,215.1 L490.2,213.3 L495.5,211.7 L500.9,210.1 L506.3,208.5 L511.6,207.1 L517.0,205.7 L522.4,204.4 L527.7,203.2 L533.1,202.1 L538.4,201.1 L543.8,200.1 L549.2,199.2 L554.5,198.4 L559.9,197.7 L565.3,197.1 L570.6,196.5 L576.0,196.1 L581.3,195.7 L586.7,195.4 L592.1,195.2 L597.4,195.1 L602.8,195.1 L608.2,195.2 L613.5,195.3 L618.9,195.6 L624.3,195.9 L629.6,196.4 L635.0,196.9 L640.3,197.5 L645.7,198.2 L651.1,199.1 L656.4,200.0 L661.8,201.0 L667.2,202.0 L672.5,203.2 L677.9,204.5 L683.2,205.9 L688.6,207.4 L694.0,208.9 L699.3,210.6 L704.7,212.4 L710.1,214.2 L715.4,216.2 L720.8,218.2 L726.1,220.4 L731.5,222.6 L736.9,225.0 L742.2,227.4 L747.6,230.0 L753.0,232.6 L758.3,235.4 L763.7,238.2 L769.0,241.2 L774.4,244.2 L779.8,247.3 L785.1,250.6 L790.5,253.9 L795.9,257.3 L801.2,260.8 L806.6,264.5 L812.0,268.2 L817.3,272.0 L822.7,275.8 L828.0,279.8 L833.4,283.9 L838.8,288.0 L844.1,292.2 L849.5,296.5 L854.9,300.8 L860.2,305.3 L865.6,309.8 L870.9,314.3 L876.3,318.9 L881.7,323.6 L887.0,328.3 L892.4,333.0 L897.8,337.8 L903.1,342.6 L908.5,347.4 L913.8,352.2 L919.2,357.0 L924.6,361.9 L929.9,366.7 L935.3,371.4 L940.7,376.2 L946.0,380.9 L951.4,385.5 L956.7,390.1 L962.1,394.6 L967.5,399.0 L972.8,403.4"/>
<path class="r" d="M227.4,330.8 L232.8,328.2 L238.1,325.5 L243.5,322.7 L248.9,319.9 L254.2,317.1 L259.6,314.2 L264.9,311.2 L270.3,308.3 L275.7,305.3 L281.0,302.3 L286.4,299.3 L291.8,296.2 L297.1,293.1 L302.5,290.1 L307.8,287.0 L313.2,283.9 L318.6,280.8 L323.9,277.7 L329.3,274.6 L334.7,271.6 L340.0,268.5 L345.4,265.4 L350.7,262.4 L356.1,259.4 L361.5,256.5 L366.8,253.5 L372.2,250.6 L377.6,247.7 L382.9,244.9 L388.3,242.1 L393.6,239.3 L399.0,236.6 L404.4,233.9 L409.7,231.3 L415.1,228.8 L420.5,226.3 L425.8,223.8 L431.2,221.4 L436.6,219.1 L441.9,216.9 L447.3,214.7 L452.6,212.6 L458.0,210.5 L463.4,208.5 L468.7,206.6 L474.1,204.8 L479.5,203.0 L484.8,201.3 L490.2,199.7 L495.5,198.2 L500.9,196.8 L506.3,195.4 L511.6,194.2 L517.0,193.0 L522.4,191.9 L527.7,190.9 L533.1,189.9 L538.4,189.1 L543.8,188.4 L549.2,187.7 L554.5,187.1 L559.9,186.7 L565.3,186.3 L570.6,186.0 L576.0,185.8 L581.3,185.7 L586.7,185.7 L592.1,185.7 L597.4,185.9 L602.8,186.2 L608.2,186.6 L613.5,187.0 L618.9,187.6 L624.3,188.3 L629.6,189.0 L635.0,189.9 L640.3,190.8 L645.7,191.9 L651.1,193.0 L656.4,194.3 L661.8,195.6 L667.2,197.1 L672.5,198.6 L677.9,200.3 L683.2,202.0 L688.6,203.9 L694.0,205.8 L699.3,207.9 L704.7,210.1 L710.1,212.3 L715.4,214.7 L720.8,217.2 L726.1,219.7 L731.5,222.4 L736.9,225.2 L742.2,228.1 L747.6,231.1 L753.0,234.1 L758.3,237.3 L763.7,240.6 L769.0,244.0 L774.4,247.5 L779.8,251.1 L785.1,254.8 L790.5,258.6 L795.9,262.5 L801.2,266.4 L806.6,270.5 L812.0,274.7 L817.3,278.9 L822.7,283.3 L828.0,287.7 L833.4,292.2 L838.8,296.8 L844.1,301.4 L849.5,306.1 L854.9,310.9 L860.2,315.8 L865.6,320.7 L870.9,325.6 L876.3,330.6 L881.7,335.7 L887.0,340.8 L892.4,345.8 L897.8,351.0 L903.1,356.1 L908.5,361.2 L913.8,366.3 L919.2,371.4 L924.6,376.5 L929.9,381.5 L935.3,386.5 L940.7,391.5 L946.0,396.3 L951.4,401.1 L956.7,405.8 L962.1,410.4 L967.5,414.9 L972.8,419.3"/>
<path class="r" d="M227.4,338.4 L232.8,335.9 L238.1,333.4 L243.5,330.8 L248.9,328.2 L254.2,325.5 L259.6,322.7 L264.9,319.9 L270.3,317.1 L275.7,314.2 L281.0,311.2 L286.4,308.2 L291.8,305.2 L297.1,302.2 L302.5,299.2 L307.8,296.1 L313.2,293.0 L318.6,289.9 L323.9,286.8 L329.3,283.7 L334.7,280.6 L340.0,277.5 L345.4,274.4 L350.7,271.3 L356.1,268.2 L361.5,265.2 L366.8,262.1 L372.2,259.1 L377.6,256.1 L382.9,253.2 L388.3,250.3 L393.6,247.4 L399.0,244.6 L404.4,241.8 L409.7,239.1 L415.1,236.4 L420.5,233.8 L425.8,231.2 L431.2,228.7 L436.6,226.2 L441.9,223.8 L447.3,221.5 L452.6,219.2 L458.0,217.0 L463.4,214.9 L468.7,212.8 L474.1,210.9 L479.5,209.0 L484.8,207.1 L490.2,205.4 L495.5,203.7 L500.9,202.2 L506.3,200.7 L511.6,199.3 L517.0,198.0 L522.4,196.7 L527.7,195.6 L533.1,194.5 L538.4,193.6 L543.8,192.7 L549.2,192.0 L554.5,191.3 L559.9,190.7 L565.3,190.2 L570.6,189.8 L576.0,189.5 L581.3,189.3 L586.7,189.2 L592.1,189.2 L597.4,189.3 L602.8,189.5 L608.2,189.8 L613.5,190.2 L618.9,190.7 L624.3,191.3 L629.6,192.0 L635.0,192.8 L640.3,193.7 L645.7,194.8 L651.1,195.9 L656.4,197.1 L661.8,198.4 L667.2,199.9 L672.5,201.4 L677.9,203.0 L683.2,204.8 L688.6,206.7 L694.0,208.6 L699.3,210.7 L704.7,212.9 L710.1,215.2 L715.4,217.6 L720.8,220.1 L726.1,222.7 L731.5,225.4 L736.9,228.3 L742.2,231.2 L747.6,234.3 L753.0,237.4 L758.3,240.7 L763.7,244.1 L769.0,247.6 L774.4,251.2 L779.8,254.8 L785.1,258.7 L790.5,262.6 L795.9,266.6 L801.2,270.7 L806.6,274.9 L812.0,279.2 L817.3,283.6 L822.7,288.0 L828.0,292.6 L833.4,297.3 L838.8,302.0 L844.1,306.8 L849.5,311.7 L854.9,316.6 L860.2,321.6 L865.6,326.6 L870.9,331.7 L876.3,336.9 L881.7,342.0 L887.0,347.2 L892.4,352.4 L897.8,357.6 L903.1,362.8 L908.5,368.0 L913.8,373.2 L919.2,378.3 L924.6,383.4 L929.9,388.4 L935.3,393.4 L940.7,398.2 L946.0,403.0 L951.4,407.7 L956.7,412.2 L962.1,416.7 L967.5,420.9 L972.8,425.0"/>
<path class="r" d="M227.4,341.4 L232.8,338.9 L238.1,336.3 L243.5,333.6 L248.9,330.9 L254.2,328.1 L259.6,325.2 L264.9,322.3 L270.3,319.3 L275.7,316.3 L281.0,313.2 L286.4,310.1 L291.8,307.0 L297.1,303.8 L302.5,300.6 L307.8,297.4 L313.2,294.1 L318.6,290.9 L323.9,287.6 L329.3,284.3 L334.7,281.1 L340.0,277.8 L345.4,274.5 L350.7,271.3 L356.1,268.0 L361.5,264.8 L366.8,261.6 L372.2,258.4 L377.6,255.3 L382.9,252.2 L388.3,249.1 L393.6,246.1 L399.0,243.1 L404.4,240.1 L409.7,237.2 L415.1,234.4 L420.5,231.6 L425.8,228.9 L431.2,226.2 L436.6,223.6 L441.9,221.1 L447.3,218.7 L452.6,216.3 L458.0,214.0 L463.4,211.7 L468.7,209.6 L474.1,207.5 L479.5,205.5 L484.8,203.6 L490.2,201.7 L495.5,200.0 L500.9,198.4 L506.3,196.8 L511.6,195.3 L517.0,194.0 L522.4,192.7 L527.7,191.5 L533.1,190.4 L538.4,189.4 L543.8,188.6 L549.2,187.8 L554.5,187.1 L559.9,186.5 L565.3,186.0 L570.6,185.6 L576.0,185.4 L581.3,185.2 L586.7,185.1 L592.1,185.2 L597.4,185.3 L602.8,185.6 L608.2,185.9 L613.5,186.4 L618.9,187.0 L624.3,187.7 L629.6,188.4 L635.0,189.4 L640.3,190.4 L645.7,191.5 L651.1,192.7 L656.4,194.1 L661.8,195.5 L667.2,197.1 L672.5,198.8 L677.9,200.6 L683.2,202.5 L688.6,204.6 L694.0,206.7 L699.3,209.0 L704.7,211.3 L710.1,213.8 L715.4,216.4 L720.8,219.2 L726.1,222.0 L731.5,225.0 L736.9,228.0 L742.2,231.2 L747.6,234.5 L753.0,238.0 L758.3,241.5 L763.7,245.1 L769.0,248.9 L774.4,252.8 L779.8,256.8 L785.1,260.9 L790.5,265.1 L795.9,269.4 L801.2,273.8 L806.6,278.3 L812.0,282.9 L817.3,287.6 L822.7,292.4 L828.0,297.3 L833.4,302.3 L838.8,307.3 L844.1,312.5 L849.5,317.7 L854.9,322.9 L860.2,328.2 L865.6,333.6 L870.9,338.9 L876.3,344.4 L881.7,349.8 L887.0,355.3 L892.4,360.7 L897.8,366.2 L903.1,371.6 L908.5,377.0 L913.8,382.4 L919.2,387.7 L924.6,393.0 L929.9,398.1 L935.3,403.2 L940.7,408.2 L946.0,413.0 L951.4,417.7 L956.7,422.3 L962.1,426.7 L967.5,430.9 L972.8,434.9"/>
<path class="c" d="M227.4,297.1 L232.8,289.5 L238.1,282.0 L243.5,274.6 L248.9,267.4 L254.2,260.3 L259.6,253.4 L264.9,246.7 L270.3,240.1 L275.7,233.9 L281.0,227.8 L286.4,222.0 L291.8,216.5 L297.1,211.2 L302.5,206.3 L307.8,201.6 L313.2,197.3 L318.6,193.3 L323.9,189.6 L329.3,186.3 L334.7,183.4 L340.0,180.8 L345.4,178.6 L350.7,176.8 L356.1,175.4 L361.5,174.4 L366.8,173.8 L372.2,173.6 L377.6,173.8 L382.9,174.4 L388.3,175.4 L393.6,176.8 L399.0,178.6 L404.4,180.9 L409.7,183.5 L415.1,186.5 L420.5,189.9 L425.8,193.7 L431.2,197.9 L436.6,202.4 L441.9,207.3 L447.3,212.5 L452.6,218.1 L458.0,224.0 L463.4,230.2 L468.7,236.6 L474.1,243.4 L479.5,250.4 L484.8,257.6 L490.2,265.1 L495.5,272.7 L500.9,280.5 L506.3,288.5 L511.6,296.6 L517.0,304.9 L522.4,313.2 L527.7,321.5 L533.1,329.9 L538.4,338.4 L543.8,346.8 L549.2,355.1 L554.5,363.4 L559.9,371.7 L565.3,379.8 L570.6,387.7 L576.0,395.5 L581.3,403.1 L586.7,410.5 L592.1,417.6 L597.4,424.5 L602.8,431.0 L608.2,437.3 L613.5,443.2 L618.9,448.7 L624.3,453.9 L629.6,458.7 L635.0,463.0 L640.3,467.0 L645.7,470.5 L651.1,473.5 L656.4,476.1 L661.8,478.1 L667.2,479.7 L672.5,480.9 L677.9,481.5 L683.2,481.6 L688.6,481.2 L694.0,480.4 L699.3,479.0 L704.7,477.2 L710.1,475.0 L715.4,472.3 L720.8,469.1 L726.1,465.6 L731.5,461.6 L736.9,457.3 L742.2,452.7 L747.6,447.7 L753.0,442.4 L758.3,436.9 L763.7,431.2 L769.0,425.3 L774.4,419.2 L779.8,413.0 L785.1,406.8 L790.5,400.5 L795.9,394.2 L801.2,387.9 L806.6,381.7 L812.0,375.6 L817.3,369.7 L822.7,363.9 L828.0,358.4 L833.4,353.1 L838.8,348.0 L844.1,343.3 L849.5,338.8 L854.9,334.7 L860.2,331.0 L865.6,327.5 L870.9,324.5 L876.3,321.8 L881.7,319.4 L887.0,317.4 L892.4,315.7 L897.8,314.4 L903.1,313.3 L908.5,312.5 L913.8,311.9 L919.2,311.4 L924.6,311.1 L929.9,311.0 L935.3,310.8 L940.7,310.6 L946.0,310.4 L951.4,310.2 L956.7,310.0 L962.1,309.7 L967.5,309.3 L972.8,308.7"/>
<path class="c" d="M227.4,316.1 L232.8,308.0 L238.1,300.1 L243.5,292.2 L248.9,284.5 L254.2,276.8 L259.6,269.3 L264.9,261.9 L270.3,254.7 L275.7,247.7 L281.0,241.0 L286.4,234.4 L291.8,228.1 L297.1,222.0 L302.5,216.2 L307.8,210.7 L313.2,205.4 L318.6,200.5 L323.9,195.9 L329.3,191.7 L334.7,187.8 L340.0,184.2 L345.4,181.1 L350.7,178.3 L356.1,175.9 L361.5,173.9 L366.8,172.2 L372.2,171.0 L377.6,170.2 L382.9,169.9 L388.3,169.9 L393.6,170.4 L399.0,171.2 L404.4,172.5 L409.7,174.3 L415.1,176.4 L420.5,178.9 L425.8,181.9 L431.2,185.3 L436.6,189.0 L441.9,193.2 L447.3,197.7 L452.6,202.6 L458.0,207.8 L463.4,213.4 L468.7,219.3 L474.1,225.6 L479.5,232.1 L484.8,239.0 L490.2,246.1 L495.5,253.4 L500.9,261.0 L506.3,268.8 L511.6,276.7 L517.0,284.9 L522.4,293.2 L527.7,301.6 L533.1,310.1 L538.4,318.7 L543.8,327.3 L549.2,335.9 L554.5,344.6 L559.9,353.2 L565.3,361.7 L570.6,370.2 L576.0,378.5 L581.3,386.7 L586.7,394.8 L592.1,402.6 L597.4,410.3 L602.8,417.7 L608.2,424.8 L613.5,431.6 L618.9,438.1 L624.3,444.3 L629.6,450.1 L635.0,455.6 L640.3,460.6 L645.7,465.2 L651.1,469.3 L656.4,473.1 L661.8,476.3 L667.2,479.1 L672.5,481.3 L677.9,483.1 L683.2,484.4 L688.6,485.2 L694.0,485.5 L699.3,485.2 L704.7,484.5 L710.1,483.3 L715.4,481.6 L720.8,479.4 L726.1,476.7 L731.5,473.6 L736.9,470.1 L742.2,466.2 L747.6,461.9 L753.0,457.2 L758.3,452.2 L763.7,446.9 L769.0,441.3 L774.4,435.5 L779.8,429.5 L785.1,423.4 L790.5,417.1 L795.9,410.7 L801.2,404.3 L806.6,397.8 L812.0,391.4 L817.3,385.1 L822.7,378.9 L828.0,372.8 L833.4,366.8 L838.8,361.1 L844.1,355.6 L849.5,350.4 L854.9,345.5 L860.2,340.9 L865.6,336.6 L870.9,332.7 L876.3,329.1 L881.7,325.9 L887.0,323.0 L892.4,320.5 L897.8,318.4 L903.1,316.5 L908.5,315.0 L913.8,313.8 L919.2,312.9 L924.6,312.2 L929.9,311.6 L935.3,311.2 L940.7,310.9 L946.0,310.7 L951.4,310.3 L956.7,309.7 L962.1,308.7 L967.5,307.4 L972.8,305.7"/>
<path class="c" d="M227.4,302.4 L232.8,294.5 L238.1,286.7 L243.5,279.0 L248.9,271.5 L254.2,264.0 L259.6,256.8 L264.9,249.7 L270.3,242.8 L275.7,236.1 L281.0,229.6 L286.4,223.4 L291.8,217.5 L297.1,211.8 L302.5,206.4 L307.8,201.3 L313.2,196.5 L318.6,192.0 L323.9,187.9 L329.3,184.1 L334.7,180.6 L340.0,177.5 L345.4,174.8 L350.7,172.5 L356.1,170.6 L361.5,169.0 L366.8,167.9 L372.2,167.2 L377.6,166.8 L382.9,166.9 L388.3,167.4 L393.6,168.3 L399.0,169.7 L404.4,171.4 L409.7,173.5 L415.1,176.1 L420.5,179.0 L425.8,182.3 L431.2,186.1 L436.6,190.2 L441.9,194.7 L447.3,199.5 L452.6,204.7 L458.0,210.2 L463.4,216.1 L468.7,222.3 L474.1,228.7 L479.5,235.5 L484.8,242.5 L490.2,249.8 L495.5,257.3 L500.9,265.0 L506.3,272.9 L511.6,281.0 L517.0,289.2 L522.4,297.6 L527.7,306.0 L533.1,314.6 L538.4,323.2 L543.8,331.8 L549.2,340.4 L554.5,349.1 L559.9,357.6 L565.3,366.1 L570.6,374.6 L576.0,382.8 L581.3,391.0 L586.7,399.0 L592.1,406.7 L597.4,414.3 L602.8,421.6 L608.2,428.6 L613.5,435.4 L618.9,441.8 L624.3,447.9 L629.6,453.6 L635.0,459.0 L640.3,463.9 L645.7,468.4 L651.1,472.6 L656.4,476.2 L661.8,479.4 L667.2,482.2 L672.5,484.4 L677.9,486.2 L683.2,487.5 L688.6,488.3 L694.0,488.5 L699.3,488.3 L704.7,487.7 L710.1,486.5 L715.4,484.8 L720.8,482.7 L726.1,480.2 L731.5,477.2 L736.9,473.7 L742.2,469.9 L747.6,465.7 L753.0,461.1 L758.3,456.3 L763.7,451.1 L769.0,445.6 L774.4,439.9 L779.8,434.0 L785.1,427.9 L790.5,421.7 L795.9,415.4 L801.2,409.0 L806.6,402.6 L812.0,396.2 L817.3,389.9 L822.7,383.6 L828.0,377.5 L833.4,371.5 L838.8,365.7 L844.1,360.1 L849.5,354.7 L854.9,349.6 L860.2,344.8 L865.6,340.3 L870.9,336.2 L876.3,332.3 L881.7,328.9 L887.0,325.7 L892.4,323.0 L897.8,320.5 L903.1,318.4 L908.5,316.6 L913.8,315.2 L919.2,314.0 L924.6,313.0 L929.9,312.2 L935.3,311.7 L940.7,311.2 L946.0,310.9 L951.4,310.5 L956.7,310.0 L962.1,309.4 L967.5,308.6 L972.8,307.6"/>
<path class="c" d="M227.4,319.2 L232.8,311.4 L238.1,303.7 L243.5,296.1 L248.9,288.6 L254.2,281.1 L259.6,273.8 L264.9,266.7 L270.3,259.7 L275.7,252.9 L281.0,246.3 L286.4,239.8 L291.8,233.6 L297.1,227.7 L302.5,222.0 L307.8,216.6 L313.2,211.4 L318.6,206.5 L323.9,202.0 L329.3,197.8 L334.7,193.9 L340.0,190.3 L345.4,187.1 L350.7,184.3 L356.1,181.8 L361.5,179.7 L366.8,178.0 L372.2,176.7 L377.6,175.7 L382.9,175.2 L388.3,175.1 L393.6,175.3 L399.0,176.0 L404.4,177.1 L409.7,178.6 L415.1,180.5 L420.5,182.8 L425.8,185.5 L431.2,188.6 L436.6,192.0 L441.9,195.9 L447.3,200.1 L452.6,204.6 L458.0,209.6 L463.4,214.8 L468.7,220.4 L474.1,226.3 L479.5,232.5 L484.8,239.0 L490.2,245.7 L495.5,252.7 L500.9,259.9 L506.3,267.4 L511.6,275.0 L517.0,282.8 L522.4,290.7 L527.7,298.8 L533.1,307.0 L538.4,315.2 L543.8,323.5 L549.2,331.9 L554.5,340.2 L559.9,348.6 L565.3,356.8 L570.6,365.1 L576.0,373.2 L581.3,381.2 L586.7,389.0 L592.1,396.7 L597.4,404.2 L602.8,411.4 L608.2,418.4 L613.5,425.2 L618.9,431.6 L624.3,437.7 L629.6,443.5 L635.0,448.9 L640.3,453.9 L645.7,458.6 L651.1,462.8 L656.4,466.6 L661.8,469.9 L667.2,472.8 L672.5,475.2 L677.9,477.1 L683.2,478.6 L688.6,479.5 L694.0,480.0 L699.3,480.0 L704.7,479.5 L710.1,478.5 L715.4,477.1 L720.8,475.1 L726.1,472.8 L731.5,469.9 L736.9,466.7 L742.2,463.1 L747.6,459.0 L753.0,454.6 L758.3,449.9 L763.7,444.9 L769.0,439.6 L774.4,434.1 L779.8,428.3 L785.1,422.4 L790.5,416.3 L795.9,410.2 L801.2,403.9 L806.6,397.7 L812.0,391.4 L817.3,385.2 L822.7,379.1 L828.0,373.1 L833.4,367.2 L838.8,361.6 L844.1,356.1 L849.5,350.9 L854.9,346.0 L860.2,341.4 L865.6,337.1 L870.9,333.1 L876.3,329.5 L881.7,326.2 L887.0,323.3 L892.4,320.7 L897.8,318.5 L903.1,316.6 L908.5,315.1 L913.8,313.8 L919.2,312.9 L924.6,312.1 L929.9,311.6 L935.3,311.3 L940.7,311.1 L946.0,310.9 L951.4,310.8 L956.7,310.6 L962.1,310.3 L967.5,309.8 L972.8,309.0"/>
<path class="c" d="M227.4,312.7 L232.8,304.8 L238.1,296.9 L243.5,289.2 L248.9,281.5 L254.2,274.0 L259.6,266.6 L264.9,259.3 L270.3,252.3 L275.7,245.4 L281.0,238.7 L286.4,232.3 L291.8,226.1 L297.1,220.1 L302.5,214.4 L307.8,209.0 L313.2,203.8 L318.6,199.0 L323.9,194.5 L329.3,190.3 L334.7,186.5 L340.0,183.0 L345.4,179.9 L350.7,177.1 L356.1,174.7 L361.5,172.7 L366.8,171.1 L372.2,169.9 L377.6,169.1 L382.9,168.7 L388.3,168.7 L393.6,169.1 L399.0,169.9 L404.4,171.1 L409.7,172.8 L415.1,174.8 L420.5,177.2 L425.8,180.1 L431.2,183.3 L436.6,186.9 L441.9,190.9 L447.3,195.3 L452.6,200.0 L458.0,205.1 L463.4,210.5 L468.7,216.3 L474.1,222.4 L479.5,228.7 L484.8,235.4 L490.2,242.3 L495.5,249.5 L500.9,256.9 L506.3,264.5 L511.6,272.3 L517.0,280.3 L522.4,288.4 L527.7,296.7 L533.1,305.0 L538.4,313.5 L543.8,322.0 L549.2,330.5 L554.5,339.1 L559.9,347.7 L565.3,356.2 L570.6,364.6 L576.0,372.9 L581.3,381.2 L586.7,389.3 L592.1,397.2 L597.4,404.9 L602.8,412.4 L608.2,419.7 L613.5,426.7 L618.9,433.4 L624.3,439.8 L629.6,445.9 L635.0,451.6 L640.3,457.0 L645.7,461.9 L651.1,466.4 L656.4,470.5 L661.8,474.2 L667.2,477.4 L672.5,480.2 L677.9,482.4 L683.2,484.2 L688.6,485.5 L694.0,486.4 L699.3,486.7 L704.7,486.5 L710.1,485.9 L715.4,484.7 L720.8,483.1 L726.1,481.1 L731.5,478.5 L736.9,475.6 L742.2,472.2 L747.6,468.4 L753.0,464.2 L758.3,459.7 L763.7,454.9 L769.0,449.8 L774.4,444.3 L779.8,438.7 L785.1,432.8 L790.5,426.8 L795.9,420.6 L801.2,414.4 L806.6,408.0 L812.0,401.7 L817.3,395.3 L822.7,389.0 L828.0,382.8 L833.4,376.7 L838.8,370.7 L844.1,364.9 L849.5,359.4 L854.9,354.0 L860.2,349.0 L865.6,344.2 L870.9,339.8 L876.3,335.7 L881.7,331.9 L887.0,328.4 L892.4,325.3 L897.8,322.6 L903.1,320.2 L908.5,318.1 L913.8,316.4 L919.2,314.9 L924.6,313.8 L929.9,312.8 L935.3,312.1 L940.7,311.6 L946.0,311.2 L951.4,310.8 L956.7,310.3 L962.1,309.7 L967.5,309.0 L972.8,308.0"/>
<path class="c" d="M227.4,306.1 L232.8,298.5 L238.1,291.0 L243.5,283.6 L248.9,276.4 L254.2,269.2 L259.6,262.2 L264.9,255.4 L270.3,248.7 L275.7,242.3 L281.0,236.0 L286.4,230.0 L291.8,224.2 L297.1,218.6 L302.5,213.3 L307.8,208.3 L313.2,203.6 L318.6,199.2 L323.9,195.1 L329.3,191.3 L334.7,187.8 L340.0,184.7 L345.4,181.9 L350.7,179.5 L356.1,177.4 L361.5,175.8 L366.8,174.4 L372.2,173.5 L377.6,173.0 L382.9,172.8 L388.3,173.1 L393.6,173.7 L399.0,174.7 L404.4,176.1 L409.7,177.9 L415.1,180.1 L420.5,182.6 L425.8,185.5 L431.2,188.9 L436.6,192.5 L441.9,196.6 L447.3,200.9 L452.6,205.7 L458.0,210.7 L463.4,216.1 L468.7,221.8 L474.1,227.7 L479.5,234.0 L484.8,240.5 L490.2,247.3 L495.5,254.3 L500.9,261.5 L506.3,268.9 L511.6,276.5 L517.0,284.2 L522.4,292.1 L527.7,300.1 L533.1,308.2 L538.4,316.4 L543.8,324.6 L549.2,332.8 L554.5,341.1 L559.9,349.3 L565.3,357.5 L570.6,365.6 L576.0,373.6 L581.3,381.6 L586.7,389.3 L592.1,396.9 L597.4,404.3 L602.8,411.5 L608.2,418.5 L613.5,425.2 L618.9,431.6 L624.3,437.8 L629.6,443.6 L635.0,449.0 L640.3,454.1 L645.7,458.8 L651.1,463.2 L656.4,467.1 L661.8,470.6 L667.2,473.6 L672.5,476.2 L677.9,478.4 L683.2,480.1 L688.6,481.3 L694.0,482.1 L699.3,482.4 L704.7,482.2 L710.1,481.6 L715.4,480.4 L720.8,478.9 L726.1,476.9 L731.5,474.4 L736.9,471.6 L742.2,468.3 L747.6,464.7 L753.0,460.7 L758.3,456.3 L763.7,451.7 L769.0,446.7 L774.4,441.5 L779.8,436.0 L785.1,430.4 L790.5,424.5 L795.9,418.6 L801.2,412.5 L806.6,406.4 L812.0,400.2 L817.3,394.0 L822.7,387.9 L828.0,381.9 L833.4,375.9 L838.8,370.1 L844.1,364.5 L849.5,359.0 L854.9,353.8 L860.2,348.8 L865.6,344.1 L870.9,339.7 L876.3,335.7 L881.7,331.9 L887.0,328.5 L892.4,325.4 L897.8,322.6 L903.1,320.2 L908.5,318.2 L913.8,316.4 L919.2,315.0 L924.6,313.8 L929.9,312.9 L935.3,312.2 L940.7,311.6 L946.0,311.3 L951.4,310.8 L956.7,310.1 L962.1,309.1 L967.5,307.8 L972.8,306.1"/>
<path class="c" d="M227.4,320.6 L232.8,313.5 L238.1,306.4 L243.5,299.3 L248.9,292.4 L254.2,285.5 L259.6,278.7 L264.9,272.1 L270.3,265.5 L275.7,259.1 L281.0,252.9 L286.4,246.8 L291.8,240.9 L297.1,235.3 L302.5,229.8 L307.8,224.5 L313.2,219.5 L318.6,214.7 L323.9,210.1 L329.3,205.8 L334.7,201.8 L340.0,198.1 L345.4,194.6 L350.7,191.5 L356.1,188.7 L361.5,186.1 L366.8,183.9 L372.2,182.1 L377.6,180.5 L382.9,179.3 L388.3,178.5 L393.6,177.9 L399.0,177.8 L404.4,177.9 L409.7,178.5 L415.1,179.3 L420.5,180.5 L425.8,182.1 L431.2,184.0 L436.6,186.3 L441.9,188.9 L447.3,191.8 L452.6,195.1 L458.0,198.7 L463.4,202.6 L468.7,206.8 L474.1,211.3 L479.5,216.1 L484.8,221.2 L490.2,226.6 L495.5,232.2 L500.9,238.1 L506.3,244.2 L511.6,250.6 L517.0,257.1 L522.4,263.8 L527.7,270.7 L533.1,277.8 L538.4,285.0 L543.8,292.4 L549.2,299.8 L554.5,307.3 L559.9,314.9 L565.3,322.6 L570.6,330.3 L576.0,338.0 L581.3,345.6 L586.7,353.3 L592.1,360.9 L597.4,368.4 L602.8,375.8 L608.2,383.1 L613.5,390.3 L618.9,397.3 L624.3,404.2 L629.6,410.8 L635.0,417.3 L640.3,423.4 L645.7,429.4 L651.1,435.0 L656.4,440.4 L661.8,445.5 L667.2,450.2 L672.5,454.6 L677.9,458.6 L683.2,462.3 L688.6,465.6 L694.0,468.5 L699.3,471.0 L704.7,473.1 L710.1,474.7 L715.4,476.0 L720.8,476.8 L726.1,477.3 L731.5,477.2 L736.9,476.8 L742.2,476.0 L747.6,474.7 L753.0,473.0 L758.3,471.0 L763.7,468.5 L769.0,465.7 L774.4,462.5 L779.8,459.0 L785.1,455.1 L790.5,451.0 L795.9,446.6 L801.2,441.9 L806.6,437.0 L812.0,431.8 L817.3,426.5 L822.7,421.0 L828.0,415.4 L833.4,409.7 L838.8,404.0 L844.1,398.2 L849.5,392.4 L854.9,386.6 L860.2,380.9 L865.6,375.3 L870.9,369.8 L876.3,364.4 L881.7,359.3 L887.0,354.3 L892.4,349.5 L897.8,345.0 L903.1,340.7 L908.5,336.7 L913.8,333.0 L919.2,329.6 L924.6,326.5 L929.9,323.7 L935.3,321.2 L940.7,319.0 L946.0,317.2 L951.4,315.6 L956.7,314.3 L962.1,313.2 L967.5,312.4 L972.8,311.9"/>
<path class="c" d="M227.4,309.3 L232.8,302.1 L238.1,295.0 L243.5,288.0 L248.9,281.0 L254.2,274.1 L259.6,267.4 L264.9,260.8 L270.3,254.3 L275.7,248.0 L281.0,241.8 L286.4,235.8 L291.8,230.0 L297.1,224.4 L302.5,219.0 L307.8,213.8 L313.2,208.9 L318.6,204.2 L323.9,199.7 L329.3,195.5 L334.7,191.6 L340.0,187.9 L345.4,184.5 L350.7,181.4 L356.1,178.6 L361.5,176.1 L366.8,173.9 L372.2,172.1 L377.6,170.5 L382.9,169.3 L388.3,168.4 L393.6,167.8 L399.0,167.6 L404.4,167.7 L409.7,168.1 L415.1,168.9 L420.5,170.0 L425.8,171.4 L431.2,173.2 L436.6,175.3 L441.9,177.8 L447.3,180.5 L452.6,183.6 L458.0,187.0 L463.4,190.7 L468.7,194.7 L474.1,199.0 L479.5,203.6 L484.8,208.5 L490.2,213.6 L495.5,219.1 L500.9,224.7 L506.3,230.6 L511.6,236.7 L517.0,243.1 L522.4,249.6 L527.7,256.4 L533.1,263.3 L538.4,270.4 L543.8,277.6 L549.2,284.9 L554.5,292.4 L559.9,300.0 L565.3,307.6 L570.6,315.3 L576.0,323.0 L581.3,330.8 L586.7,338.6 L592.1,346.4 L597.4,354.1 L602.8,361.8 L608.2,369.4 L613.5,377.0 L618.9,384.4 L624.3,391.7 L629.6,398.9 L635.0,405.9 L640.3,412.7 L645.7,419.4 L651.1,425.8 L656.4,431.9 L661.8,437.9 L667.2,443.5 L672.5,448.9 L677.9,454.0 L683.2,458.8 L688.6,463.2 L694.0,467.3 L699.3,471.1 L704.7,474.5 L710.1,477.5 L715.4,480.2 L720.8,482.4 L726.1,484.3 L731.5,485.8 L736.9,486.8 L742.2,487.5 L747.6,487.8 L753.0,487.6 L758.3,487.1 L763.7,486.2 L769.0,484.8 L774.4,483.1 L779.8,481.0 L785.1,478.6 L790.5,475.8 L795.9,472.7 L801.2,469.2 L806.6,465.4 L812.0,461.3 L817.3,457.0 L822.7,452.4 L828.0,447.6 L833.4,442.6 L838.8,437.3 L844.1,432.0 L849.5,426.5 L854.9,420.9 L860.2,415.2 L865.6,409.4 L870.9,403.6 L876.3,397.9 L881.7,392.1 L887.0,386.4 L892.4,380.8 L897.8,375.3 L903.1,370.0 L908.5,364.7 L913.8,359.7 L919.2,354.9 L924.6,350.2 L929.9,345.9 L935.3,341.7 L940.7,337.8 L946.0,334.2 L951.4,330.9 L956.7,327.9 L962.1,325.1 L967.5,322.7 L972.8,320.5"/>
<path class="c" d="M227.4,304.3 L232.8,297.6 L238.1,290.8 L243.5,284.2 L248.9,277.6 L254.2,271.2 L259.6,264.9 L264.9,258.6 L270.3,252.6 L275.7,246.6 L281.0,240.8 L286.4,235.2 L291.8,229.8 L297.1,224.5 L302.5,219.5 L307.8,214.7 L313.2,210.0 L318.6,205.6 L323.9,201.4 L329.3,197.5 L334.7,193.8 L340.0,190.4 L345.4,187.2 L350.7,184.3 L356.1,181.7 L361.5,179.4 L366.8,177.3 L372.2,175.6 L377.6,174.1 L382.9,173.0 L388.3,172.1 L393.6,171.6 L399.0,171.3 L404.4,171.4 L409.7,171.8 L415.1,172.5 L420.5,173.5 L425.8,174.8 L431.2,176.4 L436.6,178.4 L441.9,180.6 L447.3,183.1 L452.6,186.0 L458.0,189.1 L463.4,192.5 L468.7,196.3 L474.1,200.2 L479.5,204.5 L484.8,209.0 L490.2,213.8 L495.5,218.8 L500.9,224.1 L506.3,229.6 L511.6,235.3 L517.0,241.2 L522.4,247.3 L527.7,253.6 L533.1,260.1 L538.4,266.7 L543.8,273.5 L549.2,280.4 L554.5,287.4 L559.9,294.5 L565.3,301.7 L570.6,309.0 L576.0,316.4 L581.3,323.7 L586.7,331.1 L592.1,338.6 L597.4,346.0 L602.8,353.3 L608.2,360.7 L613.5,367.9 L618.9,375.1 L624.3,382.2 L629.6,389.2 L635.0,396.0 L640.3,402.7 L645.7,409.3 L651.1,415.6 L656.4,421.8 L661.8,427.7 L667.2,433.5 L672.5,438.9 L677.9,444.2 L683.2,449.1 L688.6,453.8 L694.0,458.1 L699.3,462.2 L704.7,465.9 L710.1,469.3 L715.4,472.4 L720.8,475.1 L726.1,477.5 L731.5,479.5 L736.9,481.1 L742.2,482.4 L747.6,483.3 L753.0,483.8 L758.3,483.9 L763.7,483.7 L769.0,483.1 L774.4,482.1 L779.8,480.8 L785.1,479.1 L790.5,477.0 L795.9,474.6 L801.2,471.9 L806.6,468.9 L812.0,465.6 L817.3,462.0 L822.7,458.1 L828.0,453.9 L833.4,449.6 L838.8,445.0 L844.1,440.2 L849.5,435.2 L854.9,430.1 L860.2,424.8 L865.6,419.5 L870.9,414.0 L876.3,408.6 L881.7,403.0 L887.0,397.5 L892.4,392.0 L897.8,386.5 L903.1,381.1 L908.5,375.8 L913.8,370.6 L919.2,365.6 L924.6,360.7 L929.9,355.9 L935.3,351.4 L940.7,347.1 L946.0,343.0 L951.4,339.1 L956.7,335.5 L962.1,332.2 L967.5,329.1 L972.8,326.3"/>
<path class="c" d="M227.4,314.2 L232.8,307.5 L238.1,300.9 L243.5,294.3 L248.9,287.8 L254.2,281.4 L259.6,275.0 L264.9,268.8 L270.3,262.7 L275.7,256.7 L281.0,250.9 L286.4,245.2 L291.8,239.7 L297.1,234.3 L302.5,229.1 L307.8,224.2 L313.2,219.4 L318.6,214.8 L323.9,210.5 L329.3,206.4 L334.7,202.5 L340.0,198.8 L345.4,195.4 L350.7,192.3 L356.1,189.5 L361.5,186.9 L366.8,184.6 L372.2,182.5 L377.6,180.8 L382.9,179.4 L388.3,178.2 L393.6,177.4 L399.0,176.8 L404.4,176.6 L409.7,176.6 L415.1,177.0 L420.5,177.7 L425.8,178.7 L431.2,180.0 L436.6,181.6 L441.9,183.5 L447.3,185.7 L452.6,188.2 L458.0,191.0 L463.4,194.1 L468.7,197.5 L474.1,201.1 L479.5,205.1 L484.8,209.3 L490.2,213.7 L495.5,218.4 L500.9,223.4 L506.3,228.6 L511.6,234.0 L517.0,239.6 L522.4,245.5 L527.7,251.5 L533.1,257.7 L538.4,264.1 L543.8,270.6 L549.2,277.2 L554.5,284.0 L559.9,290.9 L565.3,297.9 L570.6,305.0 L576.0,312.1 L581.3,319.3 L586.7,326.6 L592.1,333.8 L597.4,341.1 L602.8,348.3 L608.2,355.5 L613.5,362.6 L618.9,369.7 L624.3,376.7 L629.6,383.6 L635.0,390.3 L640.3,397.0 L645.7,403.4 L651.1,409.8 L656.4,415.9 L661.8,421.8 L667.2,427.5 L672.5,432.9 L677.9,438.2 L683.2,443.1 L688.6,447.8 L694.0,452.2 L699.3,456.2 L704.7,460.0 L710.1,463.4 L715.4,466.5 L720.8,469.3 L726.1,471.7 L731.5,473.8 L736.9,475.5 L742.2,476.8 L747.6,477.7 L753.0,478.3 L758.3,478.5 L763.7,478.4 L769.0,477.8 L774.4,476.9 L779.8,475.7 L785.1,474.1 L790.5,472.1 L795.9,469.8 L801.2,467.2 L806.6,464.2 L812.0,461.0 L817.3,457.4 L822.7,453.6 L828.0,449.5 L833.4,445.2 L838.8,440.7 L844.1,436.0 L849.5,431.1 L854.9,426.1 L860.2,420.9 L865.6,415.6 L870.9,410.2 L876.3,404.8 L881.7,399.4 L887.0,393.9 L892.4,388.5 L897.8,383.1 L903.1,377.8 L908.5,372.6 L913.8,367.5 L919.2,362.5 L924.6,357.7 L929.9,353.1 L935.3,348.7 L940.7,344.5 L946.0,340.5 L951.4,336.7 L956.7,333.3 L962.1,330.0 L967.5,327.1 L972.8,324.4"/>
</g>
<g clip-path="url(#c2)">
<path class="r" d="M226.5,677.0 L233.7,672.9 L240.9,668.7 L248.1,664.5 L255.4,660.3 L262.6,656.0 L269.8,651.8 L277.0,647.5 L284.2,643.3 L291.5,639.1 L298.7,634.9 L305.9,630.8 L313.1,626.7 L320.3,622.7 L327.5,618.7 L334.8,614.8 L342.0,611.0 L349.2,607.3 L356.4,603.7 L363.6,600.1 L370.9,596.7 L378.1,593.4 L385.3,590.2 L392.5,587.2 L399.7,584.2 L407.0,581.4 L414.2,578.7 L421.4,576.2 L428.6,573.8 L435.8,571.6 L443.0,569.5 L450.3,567.6 L457.5,565.8 L464.7,564.2 L471.9,562.8 L479.1,561.5 L486.4,560.4 L493.6,559.4 L500.8,558.7 L508.0,558.1 L515.2,557.7 L522.5,557.4 L529.7,557.4 L536.9,557.5 L544.1,557.8 L551.3,558.3 L558.6,558.9 L565.8,559.8 L573.0,560.8 L580.2,562.1 L587.4,563.5 L594.6,565.1 L601.9,566.9 L609.1,568.9 L616.3,571.0 L623.5,573.4 L630.7,576.0 L638.0,578.7 L645.2,581.7 L652.4,584.8 L659.6,588.2 L666.8,591.7 L674.1,595.5 L681.3,599.4 L688.5,603.6 L695.7,607.9 L702.9,612.4 L710.1,617.2 L717.4,622.1 L724.6,627.2 L731.8,632.5 L739.0,638.0 L746.2,643.7 L753.5,649.5 L760.7,655.5 L767.9,661.6 L775.1,668.0 L782.3,674.4 L789.6,681.0 L796.8,687.7 L804.0,694.5 L811.2,701.4 L818.4,708.4 L825.7,715.4 L832.9,722.5 L840.1,729.6 L847.3,736.6 L854.5,743.7 L861.7,750.7 L869.0,757.6 L876.2,764.4 L883.4,771.0 L890.6,777.5 L897.8,783.8 L905.1,789.9 L912.3,795.6 L919.5,801.1 L926.7,806.2 L933.9,811.0 L941.2,815.3 L948.4,819.2 L955.6,822.6 L962.8,825.5 L970.0,827.8 L977.2,829.6 L984.5,830.7 L991.7,831.2 L998.9,831.0 L1006.1,830.1 L1013.3,828.5 L1020.6,826.2 L1027.8,823.1 L1035.0,819.3 L1042.2,814.8 L1049.4,809.5 L1056.7,803.4 L1063.9,796.7 L1071.1,789.2 L1078.3,781.0 L1085.5,772.2 L1092.7,762.8 L1100.0,752.9 L1107.2,742.4 L1114.4,731.4 L1121.6,720.1 L1128.8,708.5 L1136.1,696.6 L1143.3,684.5 L1150.5,672.4 L1157.7,660.3 L1164.9,648.2 L1172.2,636.4 L1179.4,624.9 L1186.6,613.7 L1193.8,603.0 L1201.0,592.9 L1208.3,583.4 L1215.5,574.7 L1222.7,566.8 L1229.9,559.8"/>
<path class="r" d="M218.4,678.7 L225.6,674.7 L232.7,670.6 L239.8,666.5 L247.0,662.4 L254.1,658.3 L261.3,654.1 L268.4,649.9 L275.5,645.8 L282.7,641.7 L289.8,637.6 L297.0,633.5 L304.1,629.5 L311.2,625.5 L318.4,621.6 L325.5,617.8 L332.7,614.0 L339.8,610.3 L346.9,606.7 L354.1,603.1 L361.2,599.7 L368.4,596.4 L375.5,593.2 L382.6,590.1 L389.8,587.1 L396.9,584.3 L404.1,581.5 L411.2,578.9 L418.4,576.5 L425.5,574.2 L432.6,572.0 L439.8,570.0 L446.9,568.1 L454.1,566.4 L461.2,564.8 L468.3,563.4 L475.5,562.2 L482.6,561.1 L489.8,560.1 L496.9,559.4 L504.0,558.8 L511.2,558.4 L518.3,558.1 L525.5,558.1 L532.6,558.2 L539.7,558.5 L546.9,558.9 L554.0,559.5 L561.2,560.3 L568.3,561.3 L575.4,562.5 L582.6,563.8 L589.7,565.4 L596.9,567.1 L604.0,569.0 L611.1,571.1 L618.3,573.4 L625.4,575.8 L632.6,578.5 L639.7,581.3 L646.8,584.4 L654.0,587.6 L661.1,591.0 L668.3,594.6 L675.4,598.4 L682.5,602.4 L689.7,606.6 L696.8,611.0 L704.0,615.5 L711.1,620.3 L718.2,625.3 L725.4,630.4 L732.5,635.7 L739.7,641.2 L746.8,646.8 L753.9,652.6 L761.1,658.6 L768.2,664.8 L775.4,671.0 L782.5,677.4 L789.6,684.0 L796.8,690.6 L803.9,697.4 L811.1,704.2 L818.2,711.1 L825.3,718.0 L832.5,725.0 L839.6,731.9 L846.8,738.9 L853.9,745.8 L861.1,752.7 L868.2,759.4 L875.3,766.1 L882.5,772.6 L889.6,778.9 L896.8,785.0 L903.9,790.9 L911.0,796.5 L918.2,801.8 L925.3,806.8 L932.5,811.4 L939.6,815.6 L946.7,819.3 L953.9,822.5 L961.0,825.3 L968.2,827.5 L975.3,829.1 L982.4,830.1 L989.6,830.5 L996.7,830.2 L1003.9,829.3 L1011.0,827.7 L1018.1,825.3 L1025.3,822.2 L1032.4,818.4 L1039.6,813.9 L1046.7,808.7 L1053.8,802.7 L1061.0,796.0 L1068.1,788.7 L1075.3,780.6 L1082.4,772.0 L1089.5,762.8 L1096.7,753.0 L1103.8,742.7 L1111.0,732.0 L1118.1,720.9 L1125.2,709.4 L1132.4,697.8 L1139.5,685.9 L1146.7,674.0 L1153.8,662.1 L1160.9,650.2 L1168.1,638.5 L1175.2,627.1 L1182.4,616.1 L1189.5,605.4 L1196.6,595.4 L1203.8,585.9 L1210.9,577.1"/>
<path class="r" d="M235.9,675.1 L242.6,671.0 L249.4,667.0 L256.2,662.9 L263.0,658.7 L269.8,654.6 L276.6,650.5 L283.3,646.3 L290.1,642.2 L296.9,638.1 L303.7,634.1 L310.5,630.0 L317.3,626.1 L324.1,622.1 L330.8,618.2 L337.6,614.4 L344.4,610.7 L351.2,607.0 L358.0,603.4 L364.8,599.9 L371.5,596.5 L378.3,593.2 L385.1,590.0 L391.9,586.9 L398.7,583.9 L405.5,581.0 L412.3,578.3 L419.0,575.7 L425.8,573.2 L432.6,570.8 L439.4,568.6 L446.2,566.5 L453.0,564.5 L459.7,562.7 L466.5,561.1 L473.3,559.6 L480.1,558.2 L486.9,557.0 L493.7,556.0 L500.4,555.1 L507.2,554.3 L514.0,553.8 L520.8,553.3 L527.6,553.1 L534.4,553.0 L541.2,553.1 L547.9,553.3 L554.7,553.7 L561.5,554.3 L568.3,555.1 L575.1,556.0 L581.9,557.0 L588.6,558.3 L595.4,559.7 L602.2,561.3 L609.0,563.1 L615.8,565.1 L622.6,567.2 L629.4,569.5 L636.1,572.0 L642.9,574.6 L649.7,577.5 L656.5,580.5 L663.3,583.7 L670.1,587.1 L676.8,590.6 L683.6,594.4 L690.4,598.3 L697.2,602.4 L704.0,606.7 L710.8,611.2 L717.6,615.8 L724.3,620.6 L731.1,625.6 L737.9,630.8 L744.7,636.1 L751.5,641.6 L758.3,647.3 L765.0,653.1 L771.8,659.0 L778.6,665.1 L785.4,671.4 L792.2,677.7 L799.0,684.2 L805.7,690.7 L812.5,697.4 L819.3,704.1 L826.1,710.9 L832.9,717.8 L839.7,724.7 L846.5,731.6 L853.2,738.5 L860.0,745.3 L866.8,752.1 L873.6,758.9 L880.4,765.5 L887.2,772.0 L893.9,778.4 L900.7,784.6 L907.5,790.6 L914.3,796.4 L921.1,801.9 L927.9,807.1 L934.7,812.0 L941.4,816.5 L948.2,820.7 L955.0,824.4 L961.8,827.7 L968.6,830.5 L975.4,832.8 L982.1,834.5 L988.9,835.7 L995.7,836.4 L1002.5,836.4 L1009.3,835.7 L1016.1,834.5 L1022.9,832.6 L1029.6,830.0 L1036.4,826.7 L1043.2,822.7 L1050.0,818.1 L1056.8,812.7 L1063.6,806.7 L1070.3,800.1 L1077.1,792.7 L1083.9,784.8 L1090.7,776.3 L1097.5,767.2 L1104.3,757.6 L1111.0,747.5 L1117.8,737.0 L1124.6,726.1 L1131.4,714.9 L1138.2,703.4 L1145.0,691.8 L1151.8,680.0 L1158.5,668.2 L1165.3,656.4 L1172.1,644.7 L1178.9,633.2"/>
<path class="r" d="M222.5,680.3 L229.1,676.5 L235.7,672.6 L242.3,668.7 L249.0,664.8 L255.6,660.8 L262.2,656.8 L268.9,652.9 L275.5,648.9 L282.1,644.9 L288.7,641.0 L295.4,637.1 L302.0,633.2 L308.6,629.3 L315.2,625.5 L321.9,621.7 L328.5,618.0 L335.1,614.3 L341.7,610.7 L348.4,607.2 L355.0,603.8 L361.6,600.4 L368.2,597.1 L374.9,593.9 L381.5,590.9 L388.1,587.9 L394.8,585.0 L401.4,582.2 L408.0,579.6 L414.6,577.0 L421.3,574.6 L427.9,572.3 L434.5,570.2 L441.1,568.1 L447.8,566.2 L454.4,564.4 L461.0,562.8 L467.6,561.3 L474.3,560.0 L480.9,558.7 L487.5,557.7 L494.1,556.8 L500.8,556.0 L507.4,555.3 L514.0,554.9 L520.6,554.5 L527.3,554.4 L533.9,554.3 L540.5,554.5 L547.2,554.8 L553.8,555.2 L560.4,555.8 L567.0,556.6 L573.7,557.5 L580.3,558.6 L586.9,559.8 L593.5,561.2 L600.2,562.8 L606.8,564.6 L613.4,566.5 L620.0,568.5 L626.7,570.8 L633.3,573.2 L639.9,575.7 L646.5,578.5 L653.2,581.4 L659.8,584.5 L666.4,587.7 L673.1,591.1 L679.7,594.7 L686.3,598.5 L692.9,602.4 L699.6,606.5 L706.2,610.8 L712.8,615.2 L719.4,619.8 L726.1,624.6 L732.7,629.6 L739.3,634.7 L745.9,639.9 L752.6,645.3 L759.2,650.9 L765.8,656.6 L772.4,662.4 L779.1,668.4 L785.7,674.5 L792.3,680.7 L798.9,687.0 L805.6,693.4 L812.2,699.8 L818.8,706.4 L825.5,713.0 L832.1,719.6 L838.7,726.3 L845.3,733.0 L852.0,739.6 L858.6,746.3 L865.2,752.8 L871.8,759.3 L878.5,765.8 L885.1,772.0 L891.7,778.2 L898.3,784.2 L905.0,790.0 L911.6,795.5 L918.2,800.9 L924.8,805.9 L931.5,810.6 L938.1,815.0 L944.7,819.1 L951.4,822.7 L958.0,825.9 L964.6,828.7 L971.2,831.0 L977.9,832.8 L984.5,834.1 L991.1,834.8 L997.7,835.0 L1004.4,834.5 L1011.0,833.5 L1017.6,831.8 L1024.2,829.6 L1030.9,826.6 L1037.5,823.1 L1044.1,818.8 L1050.7,814.0 L1057.4,808.5 L1064.0,802.3 L1070.6,795.6 L1077.2,788.2 L1083.9,780.3 L1090.5,771.8 L1097.1,762.8 L1103.8,753.3 L1110.4,743.4 L1117.0,733.2 L1123.6,722.5 L1130.3,711.6 L1136.9,700.5 L1143.5,689.2"/>
<path class="r" d="M232.6,673.2 L239.1,669.3 L245.6,665.4 L252.0,661.5 L258.5,657.5 L265.0,653.5 L271.5,649.5 L278.0,645.5 L284.4,641.6 L290.9,637.6 L297.4,633.7 L303.9,629.8 L310.3,626.0 L316.8,622.2 L323.3,618.5 L329.8,614.8 L336.3,611.1 L342.7,607.6 L349.2,604.1 L355.7,600.7 L362.2,597.3 L368.7,594.1 L375.1,590.9 L381.6,587.9 L388.1,584.9 L394.6,582.1 L401.1,579.3 L407.5,576.7 L414.0,574.2 L420.5,571.8 L427.0,569.5 L433.5,567.4 L439.9,565.4 L446.4,563.5 L452.9,561.7 L459.4,560.1 L465.9,558.6 L472.3,557.2 L478.8,556.0 L485.3,554.9 L491.8,554.0 L498.3,553.2 L504.7,552.6 L511.2,552.1 L517.7,551.7 L524.2,551.5 L530.7,551.5 L537.1,551.6 L543.6,551.9 L550.1,552.3 L556.6,552.8 L563.1,553.5 L569.5,554.4 L576.0,555.4 L582.5,556.6 L589.0,558.0 L595.5,559.5 L601.9,561.2 L608.4,563.0 L614.9,565.0 L621.4,567.1 L627.9,569.4 L634.3,571.9 L640.8,574.6 L647.3,577.4 L653.8,580.3 L660.3,583.5 L666.7,586.8 L673.2,590.3 L679.7,593.9 L686.2,597.7 L692.7,601.7 L699.1,605.8 L705.6,610.1 L712.1,614.6 L718.6,619.2 L725.0,624.0 L731.5,629.0 L738.0,634.1 L744.5,639.3 L751.0,644.7 L757.4,650.3 L763.9,656.0 L770.4,661.8 L776.9,667.7 L783.4,673.8 L789.8,680.0 L796.3,686.3 L802.8,692.6 L809.3,699.1 L815.8,705.6 L822.2,712.2 L828.7,718.8 L835.2,725.4 L841.7,732.1 L848.2,738.8 L854.6,745.4 L861.1,752.0 L867.6,758.5 L874.1,764.9 L880.6,771.3 L887.0,777.5 L893.5,783.5 L900.0,789.4 L906.5,795.1 L913.0,800.5 L919.4,805.7 L925.9,810.6 L932.4,815.2 L938.9,819.5 L945.4,823.3 L951.8,826.9 L958.3,829.9 L964.8,832.6 L971.3,834.7 L977.8,836.4 L984.2,837.6 L990.7,838.2 L997.2,838.3 L1003.7,837.8 L1010.2,836.7 L1016.6,835.0 L1023.1,832.6 L1029.6,829.7 L1036.1,826.1 L1042.6,821.9 L1049.0,817.0 L1055.5,811.6 L1062.0,805.5 L1068.5,798.8 L1075.0,791.5 L1081.4,783.7 L1087.9,775.3 L1094.4,766.4 L1100.9,757.1 L1107.4,747.3 L1113.8,737.1 L1120.3,726.6 L1126.8,715.8 L1133.3,704.7"/>
<path class="r" d="M226.9,677.6 L233.5,673.6 L240.0,669.6 L246.6,665.6 L253.2,661.5 L259.8,657.5 L266.4,653.4 L272.9,649.3 L279.5,645.2 L286.1,641.2 L292.7,637.1 L299.3,633.1 L305.8,629.2 L312.4,625.2 L319.0,621.3 L325.6,617.5 L332.2,613.7 L338.8,610.0 L345.3,606.4 L351.9,602.8 L358.5,599.3 L365.1,595.9 L371.7,592.6 L378.2,589.4 L384.8,586.3 L391.4,583.3 L398.0,580.5 L404.6,577.7 L411.1,575.0 L417.7,572.5 L424.3,570.1 L430.9,567.8 L437.5,565.7 L444.0,563.7 L450.6,561.8 L457.2,560.0 L463.8,558.4 L470.4,557.0 L476.9,555.7 L483.5,554.5 L490.1,553.5 L496.7,552.6 L503.3,551.9 L509.9,551.3 L516.4,550.9 L523.0,550.7 L529.6,550.6 L536.2,550.6 L542.8,550.8 L549.3,551.2 L555.9,551.7 L562.5,552.4 L569.1,553.3 L575.7,554.3 L582.2,555.5 L588.8,556.8 L595.4,558.3 L602.0,560.0 L608.6,561.8 L615.1,563.8 L621.7,566.0 L628.3,568.4 L634.9,570.9 L641.5,573.5 L648.1,576.4 L654.6,579.4 L661.2,582.6 L667.8,586.0 L674.4,589.5 L681.0,593.2 L687.5,597.1 L694.1,601.1 L700.7,605.4 L707.3,609.8 L713.9,614.3 L720.4,619.0 L727.0,623.9 L733.6,629.0 L740.2,634.2 L746.8,639.6 L753.3,645.1 L759.9,650.7 L766.5,656.6 L773.1,662.5 L779.7,668.6 L786.2,674.8 L792.8,681.1 L799.4,687.5 L806.0,694.0 L812.6,700.6 L819.2,707.2 L825.7,713.9 L832.3,720.6 L838.9,727.4 L845.5,734.2 L852.1,741.0 L858.6,747.7 L865.2,754.4 L871.8,761.0 L878.4,767.5 L885.0,773.9 L891.5,780.2 L898.1,786.3 L904.7,792.2 L911.3,797.9 L917.9,803.3 L924.4,808.5 L931.0,813.3 L937.6,817.9 L944.2,822.0 L950.8,825.8 L957.3,829.2 L963.9,832.1 L970.5,834.6 L977.1,836.6 L983.7,838.0 L990.3,838.9 L996.8,839.2 L1003.4,839.0 L1010.0,838.1 L1016.6,836.7 L1023.2,834.6 L1029.7,831.8 L1036.3,828.4 L1042.9,824.4 L1049.5,819.7 L1056.1,814.4 L1062.6,808.4 L1069.2,801.8 L1075.8,794.6 L1082.4,786.8 L1089.0,778.4 L1095.5,769.5 L1102.1,760.1 L1108.7,750.3 L1115.3,740.0 L1121.9,729.4 L1128.4,718.4 L1135.0,707.2 L1141.6,695.8"/>
<path class="r" d="M229.8,676.7 L236.3,673.4 L242.8,670.0 L249.2,666.6 L255.7,663.1 L262.2,659.7 L268.7,656.2 L275.2,652.8 L281.7,649.4 L288.1,645.9 L294.6,642.5 L301.1,639.2 L307.6,635.8 L314.1,632.5 L320.6,629.2 L327.0,626.0 L333.5,622.8 L340.0,619.7 L346.5,616.6 L353.0,613.7 L359.5,610.7 L365.9,607.9 L372.4,605.1 L378.9,602.4 L385.4,599.8 L391.9,597.3 L398.4,594.8 L404.9,592.5 L411.3,590.3 L417.8,588.1 L424.3,586.1 L430.8,584.2 L437.3,582.4 L443.8,580.7 L450.2,579.1 L456.7,577.6 L463.2,576.2 L469.7,575.0 L476.2,573.8 L482.7,572.8 L489.1,572.0 L495.6,571.2 L502.1,570.6 L508.6,570.1 L515.1,569.7 L521.6,569.5 L528.1,569.3 L534.5,569.4 L541.0,569.5 L547.5,569.8 L554.0,570.2 L560.5,570.7 L567.0,571.4 L573.4,572.2 L579.9,573.2 L586.4,574.3 L592.9,575.5 L599.4,576.8 L605.9,578.3 L612.3,580.0 L618.8,581.8 L625.3,583.7 L631.8,585.7 L638.3,587.9 L644.8,590.3 L651.3,592.8 L657.7,595.4 L664.2,598.2 L670.7,601.1 L677.2,604.1 L683.7,607.4 L690.2,610.7 L696.6,614.2 L703.1,617.8 L709.6,621.6 L716.1,625.5 L722.6,629.6 L729.1,633.8 L735.5,638.1 L742.0,642.6 L748.5,647.2 L755.0,651.9 L761.5,656.7 L768.0,661.7 L774.5,666.8 L780.9,671.9 L787.4,677.2 L793.9,682.6 L800.4,688.0 L806.9,693.6 L813.4,699.2 L819.8,704.8 L826.3,710.5 L832.8,716.2 L839.3,722.0 L845.8,727.7 L852.3,733.4 L858.7,739.1 L865.2,744.8 L871.7,750.4 L878.2,755.9 L884.7,761.3 L891.2,766.6 L897.6,771.8 L904.1,776.8 L910.6,781.6 L917.1,786.2 L923.6,790.6 L930.1,794.7 L936.6,798.5 L943.0,802.1 L949.5,805.3 L956.0,808.2 L962.5,810.7 L969.0,812.8 L975.5,814.5 L981.9,815.7 L988.4,816.5 L994.9,816.9 L1001.4,816.7 L1007.9,816.1 L1014.4,814.9 L1020.8,813.2 L1027.3,810.9 L1033.8,808.2 L1040.3,804.8 L1046.8,801.0 L1053.3,796.6 L1059.8,791.6 L1066.2,786.1 L1072.7,780.1 L1079.2,773.7 L1085.7,766.7 L1092.2,759.3 L1098.7,751.4 L1105.1,743.2 L1111.6,734.6 L1118.1,725.7 L1124.6,716.5 L1131.1,707.0"/>
<path class="r" d="M224.4,679.6 L231.0,675.9 L237.5,672.3 L244.1,668.5 L250.7,664.8 L257.2,661.1 L263.8,657.3 L270.3,653.5 L276.9,649.8 L283.4,646.0 L290.0,642.3 L296.5,638.5 L303.1,634.8 L309.7,631.2 L316.2,627.6 L322.8,624.0 L329.3,620.5 L335.9,617.0 L342.4,613.6 L349.0,610.3 L355.5,607.0 L362.1,603.9 L368.6,600.8 L375.2,597.8 L381.8,594.9 L388.3,592.0 L394.9,589.3 L401.4,586.7 L408.0,584.2 L414.5,581.8 L421.1,579.5 L427.6,577.3 L434.2,575.3 L440.8,573.3 L447.3,571.5 L453.9,569.8 L460.4,568.3 L467.0,566.9 L473.5,565.6 L480.1,564.4 L486.6,563.4 L493.2,562.5 L499.8,561.8 L506.3,561.2 L512.9,560.7 L519.4,560.4 L526.0,560.2 L532.5,560.1 L539.1,560.3 L545.6,560.5 L552.2,560.9 L558.8,561.5 L565.3,562.2 L571.9,563.0 L578.4,564.0 L585.0,565.2 L591.5,566.5 L598.1,567.9 L604.6,569.5 L611.2,571.3 L617.7,573.2 L624.3,575.3 L630.9,577.5 L637.4,579.9 L644.0,582.5 L650.5,585.2 L657.1,588.0 L663.6,591.1 L670.2,594.3 L676.7,597.6 L683.3,601.1 L689.9,604.8 L696.4,608.6 L703.0,612.6 L709.5,616.7 L716.1,621.0 L722.6,625.5 L729.2,630.1 L735.7,634.8 L742.3,639.8 L748.9,644.8 L755.4,650.0 L762.0,655.3 L768.5,660.8 L775.1,666.3 L781.6,672.0 L788.2,677.9 L794.7,683.8 L801.3,689.8 L807.9,695.8 L814.4,702.0 L821.0,708.2 L827.5,714.5 L834.1,720.7 L840.6,727.0 L847.2,733.3 L853.7,739.6 L860.3,745.9 L866.8,752.1 L873.4,758.2 L880.0,764.2 L886.5,770.1 L893.1,775.8 L899.6,781.4 L906.2,786.8 L912.7,792.0 L919.3,796.9 L925.8,801.6 L932.4,806.0 L939.0,810.1 L945.5,813.8 L952.1,817.1 L958.6,820.0 L965.2,822.5 L971.7,824.6 L978.3,826.2 L984.8,827.3 L991.4,827.9 L998.0,827.9 L1004.5,827.4 L1011.1,826.3 L1017.6,824.6 L1024.2,822.4 L1030.7,819.5 L1037.3,816.0 L1043.8,812.0 L1050.4,807.3 L1057.0,802.0 L1063.5,796.1 L1070.1,789.7 L1076.6,782.7 L1083.2,775.2 L1089.7,767.1 L1096.3,758.6 L1102.8,749.6 L1109.4,740.3 L1116.0,730.5 L1122.5,720.5 L1129.1,710.2 L1135.6,699.6"/>
<path class="r" d="M232.7,674.4 L238.9,670.8 L245.0,667.2 L251.2,663.6 L257.4,659.9 L263.6,656.3 L269.7,652.6 L275.9,648.9 L282.1,645.3 L288.3,641.6 L294.5,638.0 L300.6,634.4 L306.8,630.9 L313.0,627.4 L319.2,623.9 L325.3,620.4 L331.5,617.0 L337.7,613.7 L343.9,610.4 L350.1,607.2 L356.2,604.1 L362.4,601.0 L368.6,598.0 L374.8,595.1 L380.9,592.3 L387.1,589.6 L393.3,586.9 L399.5,584.4 L405.7,581.9 L411.8,579.5 L418.0,577.3 L424.2,575.1 L430.4,573.1 L436.5,571.2 L442.7,569.4 L448.9,567.7 L455.1,566.1 L461.3,564.6 L467.4,563.3 L473.6,562.0 L479.8,560.9 L486.0,559.9 L492.1,559.1 L498.3,558.4 L504.5,557.8 L510.7,557.3 L516.9,556.9 L523.0,556.7 L529.2,556.7 L535.4,556.7 L541.6,556.9 L547.7,557.2 L553.9,557.7 L560.1,558.3 L566.3,559.0 L572.5,559.8 L578.6,560.8 L584.8,562.0 L591.0,563.3 L597.2,564.7 L603.3,566.2 L609.5,567.9 L615.7,569.8 L621.9,571.7 L628.0,573.8 L634.2,576.1 L640.4,578.5 L646.6,581.1 L652.8,583.8 L658.9,586.6 L665.1,589.6 L671.3,592.7 L677.5,596.0 L683.6,599.4 L689.8,602.9 L696.0,606.6 L702.2,610.5 L708.4,614.5 L714.5,618.6 L720.7,622.9 L726.9,627.3 L733.1,631.8 L739.2,636.5 L745.4,641.3 L751.6,646.2 L757.8,651.3 L764.0,656.5 L770.1,661.8 L776.3,667.2 L782.5,672.7 L788.7,678.3 L794.8,684.0 L801.0,689.8 L807.2,695.6 L813.4,701.5 L819.6,707.5 L825.7,713.5 L831.9,719.6 L838.1,725.6 L844.3,731.7 L850.4,737.8 L856.6,743.8 L862.8,749.8 L869.0,755.7 L875.2,761.6 L881.3,767.4 L887.5,773.0 L893.7,778.6 L899.9,784.0 L906.0,789.2 L912.2,794.2 L918.4,799.0 L924.6,803.6 L930.8,807.9 L936.9,811.9 L943.1,815.6 L949.3,819.0 L955.5,822.1 L961.6,824.7 L967.8,827.0 L974.0,828.9 L980.2,830.3 L986.4,831.3 L992.5,831.8 L998.7,831.9 L1004.9,831.4 L1011.1,830.4 L1017.2,828.9 L1023.4,826.9 L1029.6,824.3 L1035.8,821.2 L1042.0,817.5 L1048.1,813.3 L1054.3,808.5 L1060.5,803.2 L1066.7,797.4 L1072.8,791.0 L1079.0,784.2 L1085.2,776.9 L1091.4,769.1"/>
<path class="r" d="M227.6,678.1 L233.8,674.8 L239.9,671.5 L246.1,668.2 L252.2,664.8 L258.4,661.4 L264.5,658.1 L270.7,654.7 L276.8,651.3 L283.0,647.9 L289.1,644.6 L295.3,641.2 L301.5,637.9 L307.6,634.6 L313.8,631.4 L319.9,628.1 L326.1,625.0 L332.2,621.8 L338.4,618.7 L344.5,615.7 L350.7,612.7 L356.9,609.8 L363.0,607.0 L369.2,604.2 L375.3,601.5 L381.5,598.9 L387.6,596.4 L393.8,593.9 L399.9,591.5 L406.1,589.3 L412.2,587.1 L418.4,585.0 L424.6,583.0 L430.7,581.1 L436.9,579.3 L443.0,577.6 L449.2,576.0 L455.3,574.5 L461.5,573.1 L467.6,571.9 L473.8,570.7 L480.0,569.7 L486.1,568.8 L492.3,568.0 L498.4,567.3 L504.6,566.7 L510.7,566.2 L516.9,565.9 L523.0,565.7 L529.2,565.6 L535.3,565.6 L541.5,565.8 L547.7,566.0 L553.8,566.4 L560.0,567.0 L566.1,567.6 L572.3,568.4 L578.4,569.3 L584.6,570.3 L590.7,571.5 L596.9,572.8 L603.1,574.2 L609.2,575.7 L615.4,577.4 L621.5,579.2 L627.7,581.1 L633.8,583.2 L640.0,585.4 L646.1,587.7 L652.3,590.2 L658.4,592.8 L664.6,595.5 L670.8,598.4 L676.9,601.4 L683.1,604.6 L689.2,607.8 L695.4,611.2 L701.5,614.8 L707.7,618.5 L713.8,622.3 L720.0,626.2 L726.2,630.3 L732.3,634.5 L738.5,638.8 L744.6,643.2 L750.8,647.8 L756.9,652.5 L763.1,657.2 L769.2,662.1 L775.4,667.1 L781.5,672.2 L787.7,677.4 L793.9,682.7 L800.0,688.1 L806.2,693.5 L812.3,699.0 L818.5,704.5 L824.6,710.1 L830.8,715.7 L836.9,721.4 L843.1,727.0 L849.2,732.6 L855.4,738.3 L861.6,743.9 L867.7,749.4 L873.9,754.9 L880.0,760.2 L886.2,765.5 L892.3,770.7 L898.5,775.7 L904.6,780.6 L910.8,785.3 L917.0,789.8 L923.1,794.1 L929.3,798.2 L935.4,802.0 L941.6,805.5 L947.7,808.7 L953.9,811.6 L960.0,814.2 L966.2,816.4 L972.3,818.2 L978.5,819.6 L984.7,820.7 L990.8,821.2 L997.0,821.4 L1003.1,821.0 L1009.3,820.2 L1015.4,818.9 L1021.6,817.1 L1027.7,814.8 L1033.9,812.0 L1040.1,808.7 L1046.2,804.9 L1052.4,800.6 L1058.5,795.8 L1064.7,790.4 L1070.8,784.6 L1077.0,778.4 L1083.1,771.7"/>
<path class="r" d="M166.8,698.9 L171.4,696.7 L176.0,694.5 L180.6,692.3 L185.2,690.0 L189.7,687.8 L194.3,685.5 L198.9,683.1 L203.5,680.8 L208.1,678.4 L212.7,676.0 L217.3,673.6 L221.9,671.1 L226.5,668.7 L231.1,666.2 L235.6,663.8 L240.2,661.3 L244.8,658.8 L249.4,656.4 L254.0,653.9 L258.6,651.4 L263.2,648.9 L267.8,646.5 L272.4,644.0 L277.0,641.5 L281.5,639.1 L286.1,636.7 L290.7,634.3 L295.3,631.9 L299.9,629.5 L304.5,627.1 L309.1,624.8 L313.7,622.4 L318.3,620.1 L322.9,617.9 L327.5,615.6 L332.0,613.4 L336.6,611.2 L341.2,609.1 L345.8,607.0 L350.4,604.9 L355.0,602.8 L359.6,600.8 L364.2,598.8 L368.8,596.9 L373.4,595.0 L377.9,593.1 L382.5,591.3 L387.1,589.6 L391.7,587.9 L396.3,586.2 L400.9,584.5 L405.5,583.0 L410.1,581.4 L414.7,580.0 L419.3,578.5 L423.8,577.2 L428.4,575.8 L433.0,574.6 L437.6,573.3 L442.2,572.2 L446.8,571.1 L451.4,570.0 L456.0,569.0 L460.6,568.1 L465.2,567.2 L469.7,566.4 L474.3,565.6 L478.9,564.9 L483.5,564.2 L488.1,563.7 L492.7,563.1 L497.3,562.7 L501.9,562.3 L506.5,561.9 L511.1,561.6 L515.7,561.4 L520.2,561.2 L524.8,561.1 L529.4,561.1 L534.0,561.1 L538.6,561.2 L543.2,561.4 L547.8,561.6 L552.4,561.9 L557.0,562.2 L561.6,562.6 L566.1,563.1 L570.7,563.7 L575.3,564.3 L579.9,564.9 L584.5,565.7 L589.1,566.5 L593.7,567.4 L598.3,568.3 L602.9,569.3 L607.5,570.4 L612.0,571.5 L616.6,572.7 L621.2,574.0 L625.8,575.3 L630.4,576.7 L635.0,578.2 L639.6,579.8 L644.2,581.4 L648.8,583.0 L653.4,584.8 L657.9,586.6 L662.5,588.5 L667.1,590.5 L671.7,592.5 L676.3,594.6 L680.9,596.8 L685.5,599.0 L690.1,601.3 L694.7,603.7 L699.3,606.1 L703.8,608.6 L708.4,611.2 L713.0,613.9 L717.6,616.6 L722.2,619.4 L726.8,622.2 L731.4,625.2 L736.0,628.1 L740.6,631.2 L745.2,634.3 L749.8,637.5 L754.3,640.7 L758.9,644.1 L763.5,647.4 L768.1,650.9 L772.7,654.3 L777.3,657.9 L781.9,661.5 L786.5,665.1 L791.1,668.9 L795.7,672.6 L800.2,676.4 L804.8,680.3"/>
<path class="r" d="M154.8,704.9 L159.8,702.6 L164.9,700.3 L169.9,697.9 L174.9,695.5 L180.0,693.0 L185.0,690.5 L190.0,688.0 L195.1,685.5 L200.1,682.9 L205.1,680.2 L210.2,677.6 L215.2,674.9 L220.2,672.2 L225.3,669.5 L230.3,666.8 L235.3,664.1 L240.4,661.3 L245.4,658.6 L250.4,655.9 L255.5,653.1 L260.5,650.4 L265.5,647.6 L270.6,644.9 L275.6,642.2 L280.6,639.4 L285.7,636.7 L290.7,634.1 L295.7,631.4 L300.8,628.7 L305.8,626.1 L310.8,623.5 L315.9,621.0 L320.9,618.4 L325.9,615.9 L331.0,613.4 L336.0,611.0 L341.0,608.6 L346.1,606.3 L351.1,603.9 L356.1,601.7 L361.2,599.4 L366.2,597.3 L371.2,595.1 L376.3,593.0 L381.3,591.0 L386.3,589.0 L391.4,587.1 L396.4,585.2 L401.4,583.4 L406.5,581.7 L411.5,580.0 L416.5,578.3 L421.6,576.8 L426.6,575.3 L431.6,573.8 L436.7,572.4 L441.7,571.1 L446.7,569.9 L451.8,568.7 L456.8,567.6 L461.8,566.5 L466.9,565.6 L471.9,564.7 L476.9,563.8 L482.0,563.1 L487.0,562.4 L492.0,561.8 L497.1,561.2 L502.1,560.7 L507.1,560.4 L512.2,560.0 L517.2,559.8 L522.2,559.6 L527.3,559.5 L532.3,559.5 L537.3,559.6 L542.4,559.7 L547.4,559.9 L552.4,560.2 L557.5,560.6 L562.5,561.0 L567.5,561.5 L572.6,562.1 L577.6,562.8 L582.6,563.6 L587.7,564.4 L592.7,565.4 L597.7,566.4 L602.8,567.4 L607.8,568.6 L612.8,569.9 L617.9,571.2 L622.9,572.6 L627.9,574.1 L633.0,575.6 L638.0,577.3 L643.0,579.0 L648.1,580.9 L653.1,582.8 L658.1,584.7 L663.2,586.8 L668.2,589.0 L673.2,591.2 L678.3,593.5 L683.3,595.9 L688.3,598.4 L693.4,601.0 L698.4,603.7 L703.4,606.4 L708.5,609.2 L713.5,612.1 L718.5,615.1 L723.6,618.2 L728.6,621.3 L733.6,624.6 L738.7,627.9 L743.7,631.3 L748.7,634.7 L753.8,638.3 L758.8,641.9 L763.8,645.6 L768.9,649.4 L773.9,653.2 L778.9,657.1 L784.0,661.1 L789.0,665.2 L794.0,669.3 L799.1,673.4 L804.1,677.7 L809.1,681.9 L814.2,686.2 L819.2,690.6 L824.2,695.0 L829.3,699.5 L834.3,704.0 L839.3,708.5 L844.4,713.0 L849.4,717.5 L854.4,722.1"/>
<path class="r" d="M138.6,713.0 L143.8,710.9 L149.0,708.7 L154.2,706.5 L159.4,704.2 L164.6,701.8 L169.8,699.4 L175.0,696.9 L180.2,694.4 L185.4,691.8 L190.7,689.2 L195.9,686.6 L201.1,683.9 L206.3,681.2 L211.5,678.5 L216.7,675.7 L221.9,673.0 L227.1,670.2 L232.3,667.4 L237.5,664.5 L242.8,661.7 L248.0,658.8 L253.2,656.0 L258.4,653.1 L263.6,650.3 L268.8,647.4 L274.0,644.6 L279.2,641.8 L284.4,639.0 L289.6,636.2 L294.8,633.4 L300.1,630.6 L305.3,627.9 L310.5,625.2 L315.7,622.5 L320.9,619.9 L326.1,617.3 L331.3,614.7 L336.5,612.2 L341.7,609.7 L346.9,607.2 L352.1,604.8 L357.4,602.4 L362.6,600.1 L367.8,597.9 L373.0,595.6 L378.2,593.5 L383.4,591.4 L388.6,589.3 L393.8,587.4 L399.0,585.4 L404.2,583.6 L409.5,581.8 L414.7,580.1 L419.9,578.4 L425.1,576.8 L430.3,575.3 L435.5,573.8 L440.7,572.4 L445.9,571.1 L451.1,569.9 L456.3,568.7 L461.5,567.6 L466.8,566.6 L472.0,565.7 L477.2,564.8 L482.4,564.0 L487.6,563.3 L492.8,562.7 L498.0,562.1 L503.2,561.7 L508.4,561.3 L513.6,561.0 L518.8,560.8 L524.1,560.6 L529.3,560.6 L534.5,560.6 L539.7,560.7 L544.9,560.9 L550.1,561.2 L555.3,561.5 L560.5,562.0 L565.7,562.5 L570.9,563.2 L576.2,563.9 L581.4,564.7 L586.6,565.5 L591.8,566.5 L597.0,567.6 L602.2,568.7 L607.4,570.0 L612.6,571.3 L617.8,572.7 L623.0,574.2 L628.2,575.8 L633.5,577.5 L638.7,579.3 L643.9,581.1 L649.1,583.1 L654.3,585.1 L659.5,587.3 L664.7,589.5 L669.9,591.8 L675.1,594.3 L680.3,596.8 L685.6,599.4 L690.8,602.1 L696.0,604.9 L701.2,607.7 L706.4,610.7 L711.6,613.8 L716.8,616.9 L722.0,620.2 L727.2,623.5 L732.4,626.9 L737.6,630.5 L742.9,634.1 L748.1,637.8 L753.3,641.5 L758.5,645.4 L763.7,649.3 L768.9,653.3 L774.1,657.4 L779.3,661.6 L784.5,665.8 L789.7,670.1 L794.9,674.5 L800.2,678.9 L805.4,683.4 L810.6,688.0 L815.8,692.6 L821.0,697.2 L826.2,701.9 L831.4,706.6 L836.6,711.3 L841.8,716.1 L847.0,720.8 L852.3,725.6 L857.5,730.4 L862.7,735.2"/>
<path class="r" d="M158.4,703.1 L163.5,700.6 L168.7,698.2 L173.8,695.6 L179.0,693.0 L184.1,690.4 L189.3,687.8 L194.4,685.1 L199.5,682.3 L204.7,679.6 L209.8,676.8 L215.0,674.0 L220.1,671.2 L225.3,668.3 L230.4,665.5 L235.5,662.6 L240.7,659.7 L245.8,656.8 L251.0,654.0 L256.1,651.1 L261.3,648.2 L266.4,645.3 L271.5,642.4 L276.7,639.6 L281.8,636.7 L287.0,633.9 L292.1,631.1 L297.3,628.3 L302.4,625.6 L307.6,622.9 L312.7,620.2 L317.8,617.5 L323.0,614.9 L328.1,612.3 L333.3,609.7 L338.4,607.2 L343.6,604.7 L348.7,602.3 L353.8,599.9 L359.0,597.6 L364.1,595.3 L369.3,593.1 L374.4,590.9 L379.6,588.8 L384.7,586.7 L389.8,584.7 L395.0,582.8 L400.1,580.9 L405.3,579.1 L410.4,577.3 L415.6,575.7 L420.7,574.0 L425.8,572.5 L431.0,571.0 L436.1,569.6 L441.3,568.3 L446.4,567.0 L451.6,565.8 L456.7,564.7 L461.8,563.7 L467.0,562.7 L472.1,561.8 L477.3,561.0 L482.4,560.3 L487.6,559.7 L492.7,559.1 L497.8,558.6 L503.0,558.2 L508.1,557.9 L513.3,557.6 L518.4,557.5 L523.6,557.4 L528.7,557.4 L533.8,557.5 L539.0,557.6 L544.1,557.9 L549.3,558.2 L554.4,558.6 L559.6,559.1 L564.7,559.7 L569.8,560.4 L575.0,561.2 L580.1,562.0 L585.3,563.0 L590.4,564.0 L595.6,565.1 L600.7,566.3 L605.8,567.6 L611.0,569.0 L616.1,570.4 L621.3,572.0 L626.4,573.6 L631.6,575.3 L636.7,577.2 L641.8,579.1 L647.0,581.1 L652.1,583.2 L657.3,585.4 L662.4,587.6 L667.6,590.0 L672.7,592.5 L677.9,595.0 L683.0,597.7 L688.1,600.4 L693.3,603.2 L698.4,606.1 L703.6,609.1 L708.7,612.2 L713.9,615.4 L719.0,618.7 L724.1,622.0 L729.3,625.5 L734.4,629.0 L739.6,632.7 L744.7,636.4 L749.9,640.2 L755.0,644.0 L760.1,648.0 L765.3,652.0 L770.4,656.1 L775.6,660.3 L780.7,664.6 L785.9,668.9 L791.0,673.3 L796.1,677.7 L801.3,682.2 L806.4,686.8 L811.6,691.4 L816.7,696.0 L821.9,700.7 L827.0,705.4 L832.1,710.2 L837.3,715.0 L842.4,719.8 L847.6,724.6 L852.7,729.4 L857.9,734.2 L863.0,739.0 L868.1,743.8 L873.3,748.5"/>
<path class="r" d="M141.6,711.5 L147.0,709.3 L152.4,707.0 L157.8,704.6 L163.2,702.2 L168.6,699.7 L174.0,697.1 L179.4,694.6 L184.8,691.9 L190.2,689.2 L195.6,686.5 L201.0,683.8 L206.4,681.0 L211.8,678.1 L217.2,675.3 L222.6,672.4 L228.0,669.5 L233.4,666.6 L238.9,663.7 L244.3,660.8 L249.7,657.9 L255.1,654.9 L260.5,652.0 L265.9,649.1 L271.3,646.1 L276.7,643.2 L282.1,640.3 L287.5,637.4 L292.9,634.6 L298.3,631.7 L303.7,628.9 L309.1,626.1 L314.5,623.4 L319.9,620.7 L325.3,618.0 L330.7,615.4 L336.1,612.8 L341.5,610.2 L346.9,607.7 L352.3,605.2 L357.7,602.8 L363.1,600.5 L368.6,598.2 L374.0,595.9 L379.4,593.8 L384.8,591.7 L390.2,589.6 L395.6,587.6 L401.0,585.7 L406.4,583.8 L411.8,582.1 L417.2,580.3 L422.6,578.7 L428.0,577.1 L433.4,575.7 L438.8,574.3 L444.2,572.9 L449.6,571.7 L455.0,570.5 L460.4,569.4 L465.8,568.4 L471.2,567.5 L476.6,566.6 L482.0,565.9 L487.4,565.2 L492.8,564.6 L498.3,564.1 L503.7,563.7 L509.1,563.3 L514.5,563.1 L519.9,563.0 L525.3,562.9 L530.7,562.9 L536.1,563.0 L541.5,563.2 L546.9,563.5 L552.3,563.9 L557.7,564.4 L563.1,565.0 L568.5,565.6 L573.9,566.4 L579.3,567.2 L584.7,568.2 L590.1,569.2 L595.5,570.3 L600.9,571.6 L606.3,572.9 L611.7,574.3 L617.1,575.8 L622.5,577.4 L628.0,579.1 L633.4,580.9 L638.8,582.8 L644.2,584.8 L649.6,586.9 L655.0,589.1 L660.4,591.4 L665.8,593.7 L671.2,596.2 L676.6,598.8 L682.0,601.5 L687.4,604.2 L692.8,607.1 L698.2,610.1 L703.6,613.1 L709.0,616.3 L714.4,619.5 L719.8,622.9 L725.2,626.3 L730.6,629.9 L736.0,633.5 L741.4,637.2 L746.8,641.0 L752.2,644.9 L757.7,648.9 L763.1,653.0 L768.5,657.1 L773.9,661.4 L779.3,665.7 L784.7,670.0 L790.1,674.5 L795.5,679.0 L800.9,683.5 L806.3,688.2 L811.7,692.8 L817.1,697.5 L822.5,702.3 L827.9,707.1 L833.3,711.9 L838.7,716.8 L844.1,721.6 L849.5,726.5 L854.9,731.3 L860.3,736.2 L865.7,741.0 L871.1,745.8 L876.5,750.6 L881.9,755.3 L887.4,760.0 L892.8,764.6"/>
<path class="r" d="M146.3,709.1 L151.7,706.7 L157.2,704.3 L162.6,701.7 L168.0,699.1 L173.4,696.5 L178.9,693.8 L184.3,691.0 L189.7,688.2 L195.1,685.4 L200.6,682.6 L206.0,679.7 L211.4,676.7 L216.8,673.8 L222.3,670.8 L227.7,667.8 L233.1,664.8 L238.5,661.8 L244.0,658.7 L249.4,655.7 L254.8,652.7 L260.2,649.7 L265.7,646.6 L271.1,643.6 L276.5,640.6 L281.9,637.6 L287.4,634.7 L292.8,631.7 L298.2,628.8 L303.6,625.9 L309.1,623.0 L314.5,620.2 L319.9,617.4 L325.3,614.7 L330.8,612.0 L336.2,609.3 L341.6,606.7 L347.0,604.1 L352.5,601.6 L357.9,599.1 L363.3,596.7 L368.7,594.4 L374.2,592.1 L379.6,589.9 L385.0,587.7 L390.4,585.7 L395.9,583.6 L401.3,581.7 L406.7,579.8 L412.1,578.0 L417.6,576.3 L423.0,574.6 L428.4,573.0 L433.8,571.6 L439.3,570.1 L444.7,568.8 L450.1,567.6 L455.5,566.4 L461.0,565.3 L466.4,564.3 L471.8,563.4 L477.3,562.6 L482.7,561.8 L488.1,561.2 L493.5,560.6 L499.0,560.1 L504.4,559.8 L509.8,559.5 L515.2,559.3 L520.7,559.2 L526.1,559.2 L531.5,559.2 L536.9,559.4 L542.4,559.7 L547.8,560.0 L553.2,560.5 L558.6,561.0 L564.1,561.7 L569.5,562.4 L574.9,563.3 L580.3,564.2 L585.8,565.2 L591.2,566.3 L596.6,567.6 L602.0,568.9 L607.5,570.3 L612.9,571.8 L618.3,573.4 L623.7,575.2 L629.2,577.0 L634.6,578.9 L640.0,580.9 L645.4,583.0 L650.9,585.2 L656.3,587.6 L661.7,590.0 L667.1,592.5 L672.6,595.1 L678.0,597.9 L683.4,600.7 L688.8,603.6 L694.3,606.6 L699.7,609.8 L705.1,613.0 L710.5,616.3 L716.0,619.7 L721.4,623.3 L726.8,626.9 L732.2,630.6 L737.7,634.4 L743.1,638.3 L748.5,642.3 L753.9,646.4 L759.4,650.6 L764.8,654.8 L770.2,659.2 L775.6,663.6 L781.1,668.1 L786.5,672.6 L791.9,677.3 L797.3,682.0 L802.8,686.7 L808.2,691.5 L813.6,696.4 L819.0,701.3 L824.5,706.3 L829.9,711.2 L835.3,716.2 L840.7,721.2 L846.2,726.3 L851.6,731.3 L857.0,736.3 L862.4,741.3 L867.9,746.3 L873.3,751.2 L878.7,756.1 L884.1,761.0 L889.6,765.8 L895.0,770.5 L900.4,775.1"/>
<path class="r" d="M145.9,709.3 L151.4,707.1 L156.8,704.8 L162.3,702.4 L167.8,700.0 L173.2,697.5 L178.7,695.0 L184.2,692.4 L189.7,689.8 L195.1,687.1 L200.6,684.4 L206.1,681.7 L211.5,678.9 L217.0,676.1 L222.5,673.3 L228.0,670.5 L233.4,667.6 L238.9,664.7 L244.4,661.8 L249.8,658.9 L255.3,656.1 L260.8,653.2 L266.2,650.3 L271.7,647.4 L277.2,644.5 L282.7,641.7 L288.1,638.8 L293.6,636.0 L299.1,633.2 L304.5,630.4 L310.0,627.7 L315.5,625.0 L321.0,622.3 L326.4,619.6 L331.9,617.0 L337.4,614.5 L342.8,612.0 L348.3,609.5 L353.8,607.1 L359.3,604.7 L364.7,602.4 L370.2,600.1 L375.7,597.9 L381.1,595.8 L386.6,593.7 L392.1,591.7 L397.5,589.8 L403.0,587.9 L408.5,586.1 L414.0,584.3 L419.4,582.7 L424.9,581.1 L430.4,579.5 L435.8,578.1 L441.3,576.7 L446.8,575.4 L452.3,574.2 L457.7,573.1 L463.2,572.1 L468.7,571.1 L474.1,570.2 L479.6,569.4 L485.1,568.7 L490.5,568.1 L496.0,567.5 L501.5,567.1 L507.0,566.7 L512.4,566.4 L517.9,566.2 L523.4,566.1 L528.8,566.1 L534.3,566.2 L539.8,566.3 L545.3,566.6 L550.7,566.9 L556.2,567.4 L561.7,567.9 L567.1,568.5 L572.6,569.2 L578.1,570.1 L583.6,571.0 L589.0,572.0 L594.5,573.0 L600.0,574.2 L605.4,575.5 L610.9,576.9 L616.4,578.4 L621.8,579.9 L627.3,581.6 L632.8,583.4 L638.3,585.2 L643.7,587.2 L649.2,589.2 L654.7,591.4 L660.1,593.6 L665.6,596.0 L671.1,598.4 L676.6,601.0 L682.0,603.6 L687.5,606.4 L693.0,609.2 L698.4,612.2 L703.9,615.2 L709.4,618.3 L714.9,621.6 L720.3,624.9 L725.8,628.3 L731.3,631.8 L736.7,635.5 L742.2,639.2 L747.7,643.0 L753.1,646.8 L758.6,650.8 L764.1,654.9 L769.6,659.0 L775.0,663.2 L780.5,667.5 L786.0,671.8 L791.4,676.3 L796.9,680.8 L802.4,685.3 L807.9,689.9 L813.3,694.6 L818.8,699.3 L824.3,704.0 L829.7,708.8 L835.2,713.6 L840.7,718.4 L846.1,723.2 L851.6,728.0 L857.1,732.9 L862.6,737.7 L868.0,742.4 L873.5,747.2 L879.0,751.9 L884.4,756.5 L889.9,761.1 L895.4,765.6 L900.9,770.0 L906.3,774.4"/>
<path class="r" d="M160.9,701.8 L166.3,699.2 L171.8,696.5 L177.2,693.7 L182.6,690.9 L188.0,688.1 L193.4,685.2 L198.9,682.2 L204.3,679.3 L209.7,676.3 L215.1,673.3 L220.6,670.3 L226.0,667.2 L231.4,664.1 L236.8,661.1 L242.3,658.0 L247.7,654.9 L253.1,651.8 L258.5,648.7 L263.9,645.6 L269.4,642.6 L274.8,639.5 L280.2,636.4 L285.6,633.4 L291.1,630.4 L296.5,627.5 L301.9,624.5 L307.3,621.6 L312.8,618.7 L318.2,615.9 L323.6,613.1 L329.0,610.3 L334.4,607.6 L339.9,604.9 L345.3,602.3 L350.7,599.8 L356.1,597.3 L361.6,594.8 L367.0,592.4 L372.4,590.1 L377.8,587.9 L383.3,585.7 L388.7,583.6 L394.1,581.5 L399.5,579.5 L405.0,577.6 L410.4,575.8 L415.8,574.0 L421.2,572.3 L426.6,570.7 L432.1,569.2 L437.5,567.8 L442.9,566.4 L448.3,565.2 L453.8,564.0 L459.2,562.9 L464.6,561.9 L470.0,560.9 L475.5,560.1 L480.9,559.4 L486.3,558.7 L491.7,558.1 L497.1,557.7 L502.6,557.3 L508.0,557.0 L513.4,556.8 L518.8,556.7 L524.3,556.7 L529.7,556.7 L535.1,556.9 L540.5,557.2 L546.0,557.6 L551.4,558.0 L556.8,558.6 L562.2,559.3 L567.6,560.0 L573.1,560.9 L578.5,561.8 L583.9,562.9 L589.3,564.0 L594.8,565.3 L600.2,566.6 L605.6,568.1 L611.0,569.6 L616.5,571.3 L621.9,573.0 L627.3,574.9 L632.7,576.8 L638.1,578.9 L643.6,581.1 L649.0,583.3 L654.4,585.7 L659.8,588.2 L665.3,590.7 L670.7,593.4 L676.1,596.2 L681.5,599.1 L687.0,602.1 L692.4,605.1 L697.8,608.3 L703.2,611.6 L708.7,615.0 L714.1,618.5 L719.5,622.1 L724.9,625.8 L730.3,629.6 L735.8,633.5 L741.2,637.4 L746.6,641.5 L752.0,645.7 L757.5,649.9 L762.9,654.3 L768.3,658.7 L773.7,663.2 L779.2,667.8 L784.6,672.4 L790.0,677.1 L795.4,681.9 L800.8,686.8 L806.3,691.7 L811.7,696.6 L817.1,701.6 L822.5,706.7 L828.0,711.8 L833.4,716.8 L838.8,722.0 L844.2,727.1 L849.7,732.2 L855.1,737.3 L860.5,742.4 L865.9,747.5 L871.3,752.5 L876.8,757.5 L882.2,762.5 L887.6,767.3 L893.0,772.1 L898.5,776.8 L903.9,781.4 L909.3,785.9 L914.7,790.3"/>
<path class="r" d="M145.9,709.4 L151.5,706.9 L157.1,704.4 L162.7,701.8 L168.3,699.2 L173.9,696.5 L179.5,693.7 L185.1,690.9 L190.7,688.1 L196.3,685.2 L201.9,682.2 L207.5,679.2 L213.2,676.2 L218.8,673.2 L224.4,670.2 L230.0,667.1 L235.6,664.0 L241.2,660.9 L246.8,657.8 L252.4,654.7 L258.0,651.6 L263.6,648.5 L269.2,645.4 L274.8,642.3 L280.5,639.2 L286.1,636.2 L291.7,633.1 L297.3,630.1 L302.9,627.1 L308.5,624.2 L314.1,621.3 L319.7,618.4 L325.3,615.6 L330.9,612.8 L336.5,610.1 L342.1,607.4 L347.7,604.8 L353.4,602.2 L359.0,599.7 L364.6,597.2 L370.2,594.8 L375.8,592.5 L381.4,590.2 L387.0,588.0 L392.6,585.9 L398.2,583.8 L403.8,581.9 L409.4,580.0 L415.0,578.1 L420.6,576.4 L426.3,574.7 L431.9,573.2 L437.5,571.7 L443.1,570.3 L448.7,569.0 L454.3,567.7 L459.9,566.6 L465.5,565.5 L471.1,564.6 L476.7,563.7 L482.3,563.0 L487.9,562.3 L493.5,561.7 L499.2,561.2 L504.8,560.8 L510.4,560.5 L516.0,560.3 L521.6,560.2 L527.2,560.2 L532.8,560.3 L538.4,560.5 L544.0,560.8 L549.6,561.2 L555.2,561.7 L560.8,562.3 L566.4,563.0 L572.1,563.8 L577.7,564.7 L583.3,565.8 L588.9,566.9 L594.5,568.1 L600.1,569.4 L605.7,570.9 L611.3,572.4 L616.9,574.0 L622.5,575.8 L628.1,577.7 L633.7,579.6 L639.4,581.7 L645.0,583.9 L650.6,586.2 L656.2,588.6 L661.8,591.1 L667.4,593.7 L673.0,596.4 L678.6,599.3 L684.2,602.2 L689.8,605.3 L695.4,608.4 L701.0,611.7 L706.6,615.1 L712.3,618.6 L717.9,622.2 L723.5,625.8 L729.1,629.7 L734.7,633.6 L740.3,637.6 L745.9,641.7 L751.5,645.9 L757.1,650.2 L762.7,654.6 L768.3,659.0 L773.9,663.6 L779.5,668.3 L785.2,673.0 L790.8,677.8 L796.4,682.7 L802.0,687.6 L807.6,692.6 L813.2,697.6 L818.8,702.7 L824.4,707.9 L830.0,713.0 L835.6,718.2 L841.2,723.4 L846.8,728.6 L852.4,733.8 L858.1,739.0 L863.7,744.2 L869.3,749.3 L874.9,754.4 L880.5,759.4 L886.1,764.4 L891.7,769.2 L897.3,774.0 L902.9,778.7 L908.5,783.2 L914.1,787.7 L919.7,791.9 L925.3,796.0"/>
<path class="r" d="M139.9,712.4 L145.6,709.9 L151.3,707.3 L157.0,704.6 L162.7,701.9 L168.4,699.1 L174.1,696.2 L179.8,693.3 L185.5,690.3 L191.2,687.3 L196.9,684.2 L202.6,681.1 L208.3,678.0 L214.0,674.8 L219.7,671.6 L225.4,668.4 L231.1,665.1 L236.8,661.9 L242.5,658.6 L248.2,655.3 L253.9,652.1 L259.6,648.8 L265.3,645.5 L271.0,642.3 L276.7,639.0 L282.4,635.8 L288.1,632.6 L293.8,629.4 L299.5,626.3 L305.2,623.2 L310.9,620.1 L316.6,617.1 L322.3,614.1 L328.0,611.1 L333.7,608.2 L339.4,605.4 L345.1,602.6 L350.8,599.9 L356.5,597.2 L362.2,594.6 L367.9,592.1 L373.6,589.7 L379.3,587.3 L385.0,585.0 L390.7,582.7 L396.4,580.6 L402.1,578.5 L407.8,576.5 L413.5,574.6 L419.2,572.7 L424.9,571.0 L430.6,569.4 L436.3,567.8 L442.0,566.3 L447.7,565.0 L453.4,563.7 L459.1,562.5 L464.8,561.4 L470.5,560.4 L476.2,559.6 L481.9,558.8 L487.6,558.1 L493.3,557.5 L499.0,557.0 L504.7,556.6 L510.4,556.4 L516.1,556.2 L521.8,556.1 L527.5,556.2 L533.2,556.3 L538.9,556.6 L544.6,556.9 L550.3,557.4 L556.0,558.0 L561.7,558.7 L567.4,559.4 L573.1,560.4 L578.8,561.4 L584.5,562.5 L590.2,563.7 L595.9,565.1 L601.6,566.5 L607.3,568.1 L613.0,569.8 L618.7,571.6 L624.4,573.5 L630.1,575.6 L635.8,577.7 L641.5,580.0 L647.2,582.3 L652.9,584.8 L658.6,587.4 L664.3,590.2 L670.0,593.0 L675.7,596.0 L681.4,599.0 L687.1,602.2 L692.8,605.5 L698.5,609.0 L704.2,612.5 L709.9,616.1 L715.6,619.9 L721.3,623.8 L727.1,627.8 L732.8,631.9 L738.5,636.1 L744.2,640.4 L749.9,644.8 L755.6,649.3 L761.3,653.9 L767.0,658.6 L772.7,663.4 L778.4,668.3 L784.1,673.3 L789.8,678.3 L795.5,683.5 L801.2,688.7 L806.9,693.9 L812.6,699.2 L818.3,704.6 L824.0,709.9 L829.7,715.4 L835.4,720.8 L841.1,726.3 L846.8,731.7 L852.5,737.2 L858.2,742.6 L863.9,748.0 L869.6,753.4 L875.3,758.7 L881.0,764.0 L886.7,769.1 L892.4,774.2 L898.1,779.2 L903.8,784.0 L909.5,788.7 L915.2,793.3 L920.9,797.7 L926.6,801.9 L932.3,805.9"/>
<path class="c" d="M232.2,668.1 L237.9,660.5 L243.6,653.0 L249.3,645.6 L255.1,638.4 L260.8,631.3 L266.5,624.4 L272.2,617.7 L278.0,611.1 L283.7,604.9 L289.4,598.8 L295.1,593.0 L300.9,587.5 L306.6,582.2 L312.3,577.3 L318.1,572.6 L323.8,568.3 L329.5,564.3 L335.2,560.6 L341.0,557.3 L346.7,554.4 L352.4,551.8 L358.1,549.6 L363.9,547.8 L369.6,546.4 L375.3,545.4 L381.1,544.8 L386.8,544.6 L392.5,544.8 L398.2,545.4 L404.0,546.4 L409.7,547.8 L415.4,549.6 L421.1,551.9 L426.9,554.5 L432.6,557.5 L438.3,560.9 L444.0,564.7 L449.8,568.9 L455.5,573.4 L461.2,578.3 L467.0,583.5 L472.7,589.1 L478.4,595.0 L484.1,601.2 L489.9,607.6 L495.6,614.4 L501.3,621.4 L507.0,628.6 L512.8,636.1 L518.5,643.7 L524.2,651.5 L530.0,659.5 L535.7,667.6 L541.4,675.9 L547.1,684.2 L552.9,692.5 L558.6,700.9 L564.3,709.4 L570.0,717.8 L575.8,726.1 L581.5,734.4 L587.2,742.7 L592.9,750.8 L598.7,758.7 L604.4,766.5 L610.1,774.1 L615.9,781.5 L621.6,788.6 L627.3,795.5 L633.0,802.0 L638.8,808.3 L644.5,814.2 L650.2,819.7 L655.9,824.9 L661.7,829.7 L667.4,834.0 L673.1,838.0 L678.8,841.5 L684.6,844.5 L690.3,847.1 L696.0,849.1 L701.8,850.7 L707.5,851.9 L713.2,852.5 L718.9,852.6 L724.7,852.2 L730.4,851.4 L736.1,850.0 L741.8,848.2 L747.6,846.0 L753.3,843.3 L759.0,840.1 L764.8,836.6 L770.5,832.6 L776.2,828.3 L781.9,823.7 L787.7,818.7 L793.4,813.4 L799.1,807.9 L804.8,802.2 L810.6,796.3 L816.3,790.2 L822.0,784.0 L827.7,777.8 L833.5,771.5 L839.2,765.2 L844.9,758.9 L850.7,752.7 L856.4,746.6 L862.1,740.7 L867.8,734.9 L873.6,729.4 L879.3,724.1 L885.0,719.0 L890.7,714.3 L896.5,709.8 L902.2,705.7 L907.9,702.0 L913.7,698.5 L919.4,695.5 L925.1,692.8 L930.8,690.4 L936.6,688.4 L942.3,686.7 L948.0,685.4 L953.7,684.3 L959.5,683.5 L965.2,682.9 L970.9,682.4 L976.6,682.1 L982.4,682.0 L988.1,681.8 L993.8,681.6 L999.6,681.4 L1005.3,681.2 L1011.0,681.0 L1016.7,680.7 L1022.5,680.3 L1028.2,679.7"/>
<path class="c" d="M218.0,687.1 L223.7,679.0 L229.4,671.1 L235.2,663.2 L240.9,655.5 L246.7,647.8 L252.4,640.3 L258.2,632.9 L263.9,625.7 L269.6,618.7 L275.4,612.0 L281.1,605.4 L286.9,599.1 L292.6,593.0 L298.4,587.2 L304.1,581.7 L309.8,576.4 L315.6,571.5 L321.3,566.9 L327.1,562.7 L332.8,558.8 L338.6,555.2 L344.3,552.1 L350.1,549.3 L355.8,546.9 L361.5,544.9 L367.3,543.2 L373.0,542.0 L378.8,541.2 L384.5,540.9 L390.3,540.9 L396.0,541.4 L401.7,542.2 L407.5,543.5 L413.2,545.3 L419.0,547.4 L424.7,549.9 L430.5,552.9 L436.2,556.3 L441.9,560.0 L447.7,564.2 L453.4,568.7 L459.2,573.6 L464.9,578.8 L470.7,584.4 L476.4,590.3 L482.1,596.6 L487.9,603.1 L493.6,610.0 L499.4,617.1 L505.1,624.4 L510.9,632.0 L516.6,639.8 L522.4,647.7 L528.1,655.9 L533.8,664.2 L539.6,672.6 L545.3,681.1 L551.1,689.7 L556.8,698.3 L562.6,706.9 L568.3,715.6 L574.0,724.2 L579.8,732.7 L585.5,741.2 L591.3,749.5 L597.0,757.7 L602.8,765.8 L608.5,773.6 L614.2,781.3 L620.0,788.7 L625.7,795.8 L631.5,802.6 L637.2,809.1 L643.0,815.3 L648.7,821.1 L654.4,826.6 L660.2,831.6 L665.9,836.2 L671.7,840.3 L677.4,844.1 L683.2,847.3 L688.9,850.1 L694.6,852.3 L700.4,854.1 L706.1,855.4 L711.9,856.2 L717.6,856.5 L723.4,856.2 L729.1,855.5 L734.9,854.3 L740.6,852.6 L746.3,850.4 L752.1,847.7 L757.8,844.6 L763.6,841.1 L769.3,837.2 L775.1,832.9 L780.8,828.2 L786.5,823.2 L792.3,817.9 L798.0,812.3 L803.8,806.5 L809.5,800.5 L815.3,794.4 L821.0,788.1 L826.7,781.7 L832.5,775.3 L838.2,768.8 L844.0,762.4 L849.7,756.1 L855.5,749.9 L861.2,743.8 L866.9,737.8 L872.7,732.1 L878.4,726.6 L884.2,721.4 L889.9,716.5 L895.7,711.9 L901.4,707.6 L907.1,703.7 L912.9,700.1 L918.6,696.9 L924.4,694.0 L930.1,691.5 L935.9,689.4 L941.6,687.5 L947.4,686.0 L953.1,684.8 L958.8,683.9 L964.6,683.2 L970.3,682.6 L976.1,682.2 L981.8,681.9 L987.6,681.7 L993.3,681.3 L999.0,680.7 L1004.8,679.7 L1010.5,678.4 L1016.3,676.7"/>
<path class="c" d="M228.5,673.4 L234.2,665.5 L239.8,657.7 L245.4,650.0 L251.1,642.5 L256.7,635.0 L262.3,627.8 L268.0,620.7 L273.6,613.8 L279.2,607.1 L284.9,600.6 L290.5,594.4 L296.1,588.5 L301.8,582.8 L307.4,577.4 L313.0,572.3 L318.7,567.5 L324.3,563.0 L329.9,558.9 L335.6,555.1 L341.2,551.6 L346.8,548.5 L352.5,545.8 L358.1,543.5 L363.7,541.6 L369.4,540.0 L375.0,538.9 L380.6,538.2 L386.3,537.8 L391.9,537.9 L397.5,538.4 L403.2,539.3 L408.8,540.7 L414.4,542.4 L420.1,544.5 L425.7,547.1 L431.4,550.0 L437.0,553.3 L442.6,557.1 L448.3,561.2 L453.9,565.7 L459.5,570.5 L465.2,575.7 L470.8,581.2 L476.4,587.1 L482.1,593.3 L487.7,599.7 L493.3,606.5 L499.0,613.5 L504.6,620.8 L510.2,628.3 L515.9,636.0 L521.5,643.9 L527.1,652.0 L532.8,660.2 L538.4,668.6 L544.0,677.0 L549.7,685.6 L555.3,694.2 L560.9,702.8 L566.6,711.4 L572.2,720.1 L577.8,728.6 L583.5,737.1 L589.1,745.6 L594.7,753.8 L600.4,762.0 L606.0,770.0 L611.6,777.7 L617.3,785.3 L622.9,792.6 L628.5,799.6 L634.2,806.4 L639.8,812.8 L645.4,818.9 L651.1,824.6 L656.7,830.0 L662.3,834.9 L668.0,839.4 L673.6,843.6 L679.3,847.2 L684.9,850.4 L690.5,853.2 L696.2,855.4 L701.8,857.2 L707.4,858.5 L713.1,859.3 L718.7,859.5 L724.3,859.3 L730.0,858.7 L735.6,857.5 L741.2,855.8 L746.9,853.7 L752.5,851.2 L758.1,848.2 L763.8,844.7 L769.4,840.9 L775.0,836.7 L780.7,832.1 L786.3,827.3 L791.9,822.1 L797.6,816.6 L803.2,810.9 L808.8,805.0 L814.5,798.9 L820.1,792.7 L825.7,786.4 L831.4,780.0 L837.0,773.6 L842.6,767.2 L848.3,760.9 L853.9,754.6 L859.5,748.5 L865.2,742.5 L870.8,736.7 L876.4,731.1 L882.1,725.7 L887.7,720.6 L893.3,715.8 L899.0,711.3 L904.6,707.2 L910.2,703.3 L915.9,699.9 L921.5,696.7 L927.2,694.0 L932.8,691.5 L938.4,689.4 L944.1,687.6 L949.7,686.2 L955.3,685.0 L961.0,684.0 L966.6,683.2 L972.2,682.7 L977.9,682.2 L983.5,681.9 L989.1,681.5 L994.8,681.0 L1000.4,680.4 L1006.0,679.6 L1011.7,678.6"/>
<path class="c" d="M215.9,690.2 L221.7,682.4 L227.4,674.7 L233.1,667.1 L238.9,659.6 L244.6,652.1 L250.3,644.8 L256.1,637.7 L261.8,630.7 L267.5,623.9 L273.3,617.3 L279.0,610.8 L284.7,604.6 L290.5,598.7 L296.2,593.0 L301.9,587.6 L307.7,582.4 L313.4,577.5 L319.1,573.0 L324.9,568.8 L330.6,564.9 L336.3,561.3 L342.1,558.1 L347.8,555.3 L353.5,552.8 L359.3,550.7 L365.0,549.0 L370.7,547.7 L376.4,546.7 L382.2,546.2 L387.9,546.1 L393.6,546.3 L399.4,547.0 L405.1,548.1 L410.8,549.6 L416.6,551.5 L422.3,553.8 L428.0,556.5 L433.8,559.6 L439.5,563.0 L445.2,566.9 L451.0,571.1 L456.7,575.6 L462.4,580.6 L468.2,585.8 L473.9,591.4 L479.6,597.3 L485.4,603.5 L491.1,610.0 L496.8,616.7 L502.6,623.7 L508.3,630.9 L514.0,638.4 L519.8,646.0 L525.5,653.8 L531.2,661.7 L537.0,669.8 L542.7,678.0 L548.4,686.2 L554.2,694.5 L559.9,702.9 L565.6,711.2 L571.3,719.6 L577.1,727.8 L582.8,736.1 L588.5,744.2 L594.3,752.2 L600.0,760.0 L605.7,767.7 L611.5,775.2 L617.2,782.4 L622.9,789.4 L628.7,796.2 L634.4,802.6 L640.1,808.7 L645.9,814.5 L651.6,819.9 L657.3,824.9 L663.1,829.6 L668.8,833.8 L674.5,837.6 L680.3,840.9 L686.0,843.8 L691.7,846.2 L697.5,848.1 L703.2,849.6 L708.9,850.5 L714.7,851.0 L720.4,851.0 L726.1,850.5 L731.9,849.5 L737.6,848.1 L743.3,846.1 L749.1,843.8 L754.8,840.9 L760.5,837.7 L766.2,834.1 L772.0,830.0 L777.7,825.6 L783.4,820.9 L789.2,815.9 L794.9,810.6 L800.6,805.1 L806.4,799.3 L812.1,793.4 L817.8,787.3 L823.6,781.2 L829.3,774.9 L835.0,768.7 L840.8,762.4 L846.5,756.2 L852.2,750.1 L858.0,744.1 L863.7,738.2 L869.4,732.6 L875.2,727.1 L880.9,721.9 L886.6,717.0 L892.4,712.4 L898.1,708.1 L903.8,704.1 L909.6,700.5 L915.3,697.2 L921.0,694.3 L926.8,691.7 L932.5,689.5 L938.2,687.6 L944.0,686.1 L949.7,684.8 L955.4,683.9 L961.1,683.1 L966.9,682.6 L972.6,682.3 L978.3,682.1 L984.1,681.9 L989.8,681.8 L995.5,681.6 L1001.3,681.3 L1007.0,680.8 L1012.7,680.0"/>
<path class="c" d="M220.2,683.7 L225.8,675.8 L231.5,667.9 L237.1,660.2 L242.8,652.5 L248.4,645.0 L254.0,637.6 L259.7,630.3 L265.3,623.3 L271.0,616.4 L276.6,609.7 L282.3,603.3 L287.9,597.1 L293.6,591.1 L299.2,585.4 L304.9,580.0 L310.5,574.8 L316.1,570.0 L321.8,565.5 L327.4,561.3 L333.1,557.5 L338.7,554.0 L344.4,550.9 L350.0,548.1 L355.7,545.7 L361.3,543.7 L366.9,542.1 L372.6,540.9 L378.2,540.1 L383.9,539.7 L389.5,539.7 L395.2,540.1 L400.8,540.9 L406.5,542.1 L412.1,543.8 L417.8,545.8 L423.4,548.2 L429.0,551.1 L434.7,554.3 L440.3,557.9 L446.0,561.9 L451.6,566.3 L457.3,571.0 L462.9,576.1 L468.6,581.5 L474.2,587.3 L479.8,593.4 L485.5,599.7 L491.1,606.4 L496.8,613.3 L502.4,620.5 L508.1,627.9 L513.7,635.5 L519.4,643.3 L525.0,651.3 L530.7,659.4 L536.3,667.7 L541.9,676.0 L547.6,684.5 L553.2,693.0 L558.9,701.5 L564.5,710.1 L570.2,718.7 L575.8,727.2 L581.5,735.6 L587.1,743.9 L592.7,752.2 L598.4,760.3 L604.0,768.2 L609.7,775.9 L615.3,783.4 L621.0,790.7 L626.6,797.7 L632.3,804.4 L637.9,810.8 L643.6,816.9 L649.2,822.6 L654.8,828.0 L660.5,832.9 L666.1,837.4 L671.8,841.5 L677.4,845.2 L683.1,848.4 L688.7,851.2 L694.4,853.4 L700.0,855.2 L705.7,856.5 L711.3,857.4 L716.9,857.7 L722.6,857.5 L728.2,856.9 L733.9,855.7 L739.5,854.1 L745.2,852.1 L750.8,849.5 L756.5,846.6 L762.1,843.2 L767.7,839.4 L773.4,835.2 L779.0,830.7 L784.7,825.9 L790.3,820.8 L796.0,815.3 L801.6,809.7 L807.3,803.8 L812.9,797.8 L818.6,791.6 L824.2,785.4 L829.8,779.0 L835.5,772.7 L841.1,766.3 L846.8,760.0 L852.4,753.8 L858.1,747.7 L863.7,741.7 L869.4,735.9 L875.0,730.4 L880.6,725.0 L886.3,720.0 L891.9,715.2 L897.6,710.8 L903.2,706.7 L908.9,702.9 L914.5,699.4 L920.2,696.3 L925.8,693.6 L931.5,691.2 L937.1,689.1 L942.7,687.4 L948.4,685.9 L954.0,684.8 L959.7,683.8 L965.3,683.1 L971.0,682.6 L976.6,682.2 L982.3,681.8 L987.9,681.3 L993.5,680.7 L999.2,680.0 L1004.8,679.0"/>
<path class="c" d="M225.5,677.1 L231.1,669.5 L236.7,662.0 L242.3,654.6 L247.9,647.4 L253.5,640.2 L259.0,633.2 L264.6,626.4 L270.2,619.7 L275.8,613.3 L281.4,607.0 L287.0,601.0 L292.6,595.2 L298.1,589.6 L303.7,584.3 L309.3,579.3 L314.9,574.6 L320.5,570.2 L326.1,566.1 L331.6,562.3 L337.2,558.8 L342.8,555.7 L348.4,552.9 L354.0,550.5 L359.6,548.4 L365.2,546.8 L370.7,545.4 L376.3,544.5 L381.9,544.0 L387.5,543.8 L393.1,544.1 L398.7,544.7 L404.3,545.7 L409.8,547.1 L415.4,548.9 L421.0,551.1 L426.6,553.6 L432.2,556.5 L437.8,559.9 L443.3,563.5 L448.9,567.6 L454.5,571.9 L460.1,576.7 L465.7,581.7 L471.3,587.1 L476.9,592.8 L482.4,598.7 L488.0,605.0 L493.6,611.5 L499.2,618.3 L504.8,625.3 L510.4,632.5 L516.0,639.9 L521.5,647.5 L527.1,655.2 L532.7,663.1 L538.3,671.1 L543.9,679.2 L549.5,687.4 L555.0,695.6 L560.6,703.8 L566.2,712.1 L571.8,720.3 L577.4,728.5 L583.0,736.6 L588.6,744.6 L594.1,752.6 L599.7,760.3 L605.3,767.9 L610.9,775.3 L616.5,782.5 L622.1,789.5 L627.7,796.2 L633.2,802.6 L638.8,808.8 L644.4,814.6 L650.0,820.0 L655.6,825.1 L661.2,829.8 L666.7,834.2 L672.3,838.1 L677.9,841.6 L683.5,844.6 L689.1,847.2 L694.7,849.4 L700.3,851.1 L705.8,852.3 L711.4,853.1 L717.0,853.4 L722.6,853.2 L728.2,852.6 L733.8,851.4 L739.4,849.9 L744.9,847.9 L750.5,845.4 L756.1,842.6 L761.7,839.3 L767.3,835.7 L772.9,831.7 L778.4,827.3 L784.0,822.7 L789.6,817.7 L795.2,812.5 L800.8,807.0 L806.4,801.4 L812.0,795.5 L817.5,789.6 L823.1,783.5 L828.7,777.4 L834.3,771.2 L839.9,765.0 L845.5,758.9 L851.1,752.9 L856.6,746.9 L862.2,741.1 L867.8,735.5 L873.4,730.0 L879.0,724.8 L884.6,719.8 L890.1,715.1 L895.7,710.7 L901.3,706.7 L906.9,702.9 L912.5,699.5 L918.1,696.4 L923.7,693.6 L929.2,691.2 L934.8,689.2 L940.4,687.4 L946.0,686.0 L951.6,684.8 L957.2,683.9 L962.7,683.2 L968.3,682.6 L973.9,682.3 L979.5,681.8 L985.1,681.1 L990.7,680.1 L996.3,678.8 L1001.8,677.1"/>
<path class="c" d="M214.8,691.6 L220.2,684.5 L225.6,677.4 L230.9,670.3 L236.3,663.4 L241.7,656.5 L247.1,649.7 L252.4,643.1 L257.8,636.5 L263.2,630.1 L268.6,623.9 L273.9,617.8 L279.3,611.9 L284.7,606.3 L290.0,600.8 L295.4,595.5 L300.8,590.5 L306.2,585.7 L311.5,581.1 L316.9,576.8 L322.3,572.8 L327.6,569.1 L333.0,565.6 L338.4,562.5 L343.8,559.7 L349.1,557.1 L354.5,554.9 L359.9,553.1 L365.2,551.5 L370.6,550.3 L376.0,549.5 L381.4,548.9 L386.7,548.8 L392.1,548.9 L397.5,549.5 L402.9,550.3 L408.2,551.5 L413.6,553.1 L419.0,555.0 L424.3,557.3 L429.7,559.9 L435.1,562.8 L440.5,566.1 L445.8,569.7 L451.2,573.6 L456.6,577.8 L461.9,582.3 L467.3,587.1 L472.7,592.2 L478.1,597.6 L483.4,603.2 L488.8,609.1 L494.2,615.2 L499.5,621.6 L504.9,628.1 L510.3,634.8 L515.7,641.7 L521.0,648.8 L526.4,656.0 L531.8,663.4 L537.2,670.8 L542.5,678.3 L547.9,685.9 L553.3,693.6 L558.6,701.3 L564.0,709.0 L569.4,716.6 L574.8,724.3 L580.1,731.9 L585.5,739.4 L590.9,746.8 L596.2,754.1 L601.6,761.3 L607.0,768.3 L612.4,775.2 L617.7,781.8 L623.1,788.3 L628.5,794.4 L633.8,800.4 L639.2,806.0 L644.6,811.4 L650.0,816.5 L655.3,821.2 L660.7,825.6 L666.1,829.6 L671.5,833.3 L676.8,836.6 L682.2,839.5 L687.6,842.0 L692.9,844.1 L698.3,845.7 L703.7,847.0 L709.1,847.8 L714.4,848.3 L719.8,848.2 L725.2,847.8 L730.5,847.0 L735.9,845.7 L741.3,844.0 L746.7,842.0 L752.0,839.5 L757.4,836.7 L762.8,833.5 L768.1,830.0 L773.5,826.1 L778.9,822.0 L784.3,817.6 L789.6,812.9 L795.0,808.0 L800.4,802.8 L805.8,797.5 L811.1,792.0 L816.5,786.4 L821.9,780.7 L827.2,775.0 L832.6,769.2 L838.0,763.4 L843.4,757.6 L848.7,751.9 L854.1,746.3 L859.5,740.8 L864.8,735.4 L870.2,730.3 L875.6,725.3 L881.0,720.5 L886.3,716.0 L891.7,711.7 L897.1,707.7 L902.5,704.0 L907.8,700.6 L913.2,697.5 L918.6,694.7 L923.9,692.2 L929.3,690.0 L934.7,688.2 L940.1,686.6 L945.4,685.3 L950.8,684.2 L956.2,683.4 L961.5,682.9"/>
<path class="c" d="M222.9,680.3 L228.0,673.1 L233.1,666.0 L238.2,659.0 L243.3,652.0 L248.4,645.1 L253.5,638.4 L258.6,631.8 L263.7,625.3 L268.8,619.0 L273.9,612.8 L279.0,606.8 L284.1,601.0 L289.2,595.4 L294.3,590.0 L299.4,584.8 L304.5,579.9 L309.6,575.2 L314.7,570.7 L319.8,566.5 L324.9,562.6 L330.0,558.9 L335.1,555.5 L340.2,552.4 L345.3,549.6 L350.4,547.1 L355.5,544.9 L360.6,543.1 L365.7,541.5 L370.8,540.3 L375.9,539.4 L381.0,538.8 L386.1,538.6 L391.2,538.7 L396.3,539.1 L401.4,539.9 L406.5,541.0 L411.6,542.4 L416.7,544.2 L421.8,546.3 L426.9,548.8 L432.0,551.5 L437.1,554.6 L442.2,558.0 L447.3,561.7 L452.4,565.7 L457.5,570.0 L462.6,574.6 L467.7,579.5 L472.8,584.6 L477.9,590.1 L483.0,595.7 L488.1,601.6 L493.2,607.7 L498.3,614.1 L503.4,620.6 L508.5,627.4 L513.6,634.3 L518.7,641.4 L523.8,648.6 L528.9,655.9 L534.0,663.4 L539.1,671.0 L544.2,678.6 L549.3,686.3 L554.4,694.0 L559.5,701.8 L564.6,709.6 L569.7,717.4 L574.8,725.1 L579.9,732.8 L585.0,740.4 L590.1,748.0 L595.2,755.4 L600.3,762.7 L605.4,769.9 L610.5,776.9 L615.6,783.7 L620.7,790.4 L625.8,796.8 L630.9,802.9 L636.0,808.9 L641.1,814.5 L646.2,819.9 L651.3,825.0 L656.4,829.8 L661.5,834.2 L666.6,838.3 L671.7,842.1 L676.8,845.5 L681.9,848.5 L687.0,851.2 L692.1,853.4 L697.2,855.3 L702.3,856.8 L707.4,857.8 L712.5,858.5 L717.5,858.8 L722.6,858.6 L727.7,858.1 L732.8,857.2 L737.9,855.8 L743.0,854.1 L748.1,852.0 L753.2,849.6 L758.3,846.8 L763.4,843.7 L768.5,840.2 L773.6,836.4 L778.7,832.3 L783.8,828.0 L788.9,823.4 L794.0,818.6 L799.1,813.6 L804.2,808.3 L809.3,803.0 L814.4,797.5 L819.5,791.9 L824.6,786.2 L829.7,780.4 L834.8,774.6 L839.9,768.9 L845.0,763.1 L850.1,757.4 L855.2,751.8 L860.3,746.3 L865.4,741.0 L870.5,735.7 L875.6,730.7 L880.7,725.9 L885.8,721.2 L890.9,716.9 L896.0,712.7 L901.1,708.8 L906.2,705.2 L911.3,701.9 L916.4,698.9 L921.5,696.1 L926.6,693.7 L931.7,691.5"/>
<path class="c" d="M226.4,675.3 L231.4,668.6 L236.4,661.8 L241.3,655.2 L246.3,648.6 L251.3,642.2 L256.2,635.9 L261.2,629.6 L266.2,623.6 L271.1,617.6 L276.1,611.8 L281.1,606.2 L286.0,600.8 L291.0,595.5 L296.0,590.5 L300.9,585.7 L305.9,581.0 L310.9,576.6 L315.8,572.4 L320.8,568.5 L325.8,564.8 L330.8,561.4 L335.7,558.2 L340.7,555.3 L345.7,552.7 L350.6,550.4 L355.6,548.3 L360.6,546.6 L365.5,545.1 L370.5,544.0 L375.5,543.1 L380.4,542.6 L385.4,542.3 L390.4,542.4 L395.3,542.8 L400.3,543.5 L405.3,544.5 L410.2,545.8 L415.2,547.4 L420.2,549.4 L425.1,551.6 L430.1,554.1 L435.1,557.0 L440.0,560.1 L445.0,563.5 L450.0,567.3 L455.0,571.2 L459.9,575.5 L464.9,580.0 L469.9,584.8 L474.8,589.8 L479.8,595.1 L484.8,600.6 L489.7,606.3 L494.7,612.2 L499.7,618.3 L504.6,624.6 L509.6,631.1 L514.6,637.7 L519.5,644.5 L524.5,651.4 L529.5,658.4 L534.4,665.5 L539.4,672.7 L544.4,680.0 L549.3,687.4 L554.3,694.7 L559.3,702.1 L564.2,709.6 L569.2,717.0 L574.2,724.3 L579.2,731.7 L584.1,738.9 L589.1,746.1 L594.1,753.2 L599.0,760.2 L604.0,767.0 L609.0,773.7 L613.9,780.3 L618.9,786.6 L623.9,792.8 L628.8,798.7 L633.8,804.5 L638.8,809.9 L643.7,815.2 L648.7,820.1 L653.7,824.8 L658.6,829.1 L663.6,833.2 L668.6,836.9 L673.5,840.3 L678.5,843.4 L683.5,846.1 L688.4,848.5 L693.4,850.5 L698.4,852.1 L703.4,853.4 L708.3,854.3 L713.3,854.8 L718.3,854.9 L723.2,854.7 L728.2,854.1 L733.2,853.1 L738.1,851.8 L743.1,850.1 L748.1,848.0 L753.0,845.6 L758.0,842.9 L763.0,839.9 L767.9,836.6 L772.9,833.0 L777.9,829.1 L782.8,824.9 L787.8,820.6 L792.8,816.0 L797.7,811.2 L802.7,806.2 L807.7,801.1 L812.7,795.8 L817.6,790.5 L822.6,785.0 L827.6,779.6 L832.5,774.0 L837.5,768.5 L842.5,763.0 L847.4,757.5 L852.4,752.1 L857.4,746.8 L862.3,741.6 L867.3,736.6 L872.3,731.7 L877.2,726.9 L882.2,722.4 L887.2,718.1 L892.1,714.0 L897.1,710.1 L902.1,706.5 L907.0,703.2 L912.0,700.1 L917.0,697.3"/>
<path class="c" d="M219.9,685.2 L224.9,678.5 L229.9,671.9 L235.0,665.3 L240.0,658.8 L245.0,652.4 L250.0,646.0 L255.1,639.8 L260.1,633.7 L265.1,627.7 L270.1,621.9 L275.1,616.2 L280.2,610.7 L285.2,605.3 L290.2,600.1 L295.2,595.2 L300.3,590.4 L305.3,585.8 L310.3,581.5 L315.3,577.4 L320.4,573.5 L325.4,569.8 L330.4,566.4 L335.4,563.3 L340.4,560.5 L345.5,557.9 L350.5,555.6 L355.5,553.5 L360.5,551.8 L365.6,550.4 L370.6,549.2 L375.6,548.4 L380.6,547.8 L385.6,547.6 L390.7,547.6 L395.7,548.0 L400.7,548.7 L405.7,549.7 L410.8,551.0 L415.8,552.6 L420.8,554.5 L425.8,556.7 L430.9,559.2 L435.9,562.0 L440.9,565.1 L445.9,568.5 L450.9,572.1 L456.0,576.1 L461.0,580.3 L466.0,584.7 L471.0,589.4 L476.1,594.4 L481.1,599.6 L486.1,605.0 L491.1,610.6 L496.1,616.5 L501.2,622.5 L506.2,628.7 L511.2,635.1 L516.2,641.6 L521.3,648.2 L526.3,655.0 L531.3,661.9 L536.3,668.9 L541.3,676.0 L546.4,683.1 L551.4,690.3 L556.4,697.6 L561.4,704.8 L566.5,712.1 L571.5,719.3 L576.5,726.5 L581.5,733.6 L586.6,740.7 L591.6,747.7 L596.6,754.6 L601.6,761.3 L606.6,768.0 L611.7,774.4 L616.7,780.8 L621.7,786.9 L626.7,792.8 L631.8,798.5 L636.8,803.9 L641.8,809.2 L646.8,814.1 L651.8,818.8 L656.9,823.2 L661.9,827.2 L666.9,831.0 L671.9,834.4 L677.0,837.5 L682.0,840.3 L687.0,842.7 L692.0,844.8 L697.1,846.5 L702.1,847.8 L707.1,848.7 L712.1,849.3 L717.1,849.5 L722.2,849.4 L727.2,848.8 L732.2,847.9 L737.2,846.7 L742.3,845.1 L747.3,843.1 L752.3,840.8 L757.3,838.2 L762.3,835.2 L767.4,832.0 L772.4,828.4 L777.4,824.6 L782.4,820.5 L787.5,816.2 L792.5,811.7 L797.5,807.0 L802.5,802.1 L807.5,797.1 L812.6,791.9 L817.6,786.6 L822.6,781.2 L827.6,775.8 L832.7,770.4 L837.7,764.9 L842.7,759.5 L847.7,754.1 L852.8,748.8 L857.8,743.6 L862.8,738.5 L867.8,733.5 L872.8,728.7 L877.9,724.1 L882.9,719.7 L887.9,715.5 L892.9,711.5 L898.0,707.7 L903.0,704.3 L908.0,701.0 L913.0,698.1 L918.0,695.4"/>
</g>
<clipPath id="c3"><rect x="83.2" y="103.4" width="1200.8999999999999" height="45.099999999999994"/></clipPath>
<clipPath id="c4"><rect x="1284.1" y="148.5" width="45.0" height="356.3"/></clipPath>
<clipPath id="c5"><rect x="1284.1" y="519.9" width="45.0" height="356.0"/></clipPath>
<rect clip-path="url(#c1)" x="83.2" y="148.5" width="1200.8999999999999" height="356.3" fill="none" stroke="#2B2B2B" stroke-width="2.85"/>
<rect clip-path="url(#c2)" x="83.2" y="519.9" width="1200.8999999999999" height="356.0" fill="none" stroke="#2B2B2B" stroke-width="2.85"/>
<rect clip-path="url(#c3)" x="83.2" y="103.4" width="1200.8999999999999" height="45.099999999999994" fill="#D0D0D0" stroke="#2B2B2B" stroke-width="2.85"/>
<rect clip-path="url(#c4)" x="1284.1" y="148.5" width="45.0" height="356.3" fill="#D0D0D0" stroke="#2B2B2B" stroke-width="2.85"/>
<rect clip-path="url(#c5)" x="1284.1" y="519.9" width="45.0" height="356.0" fill="#D0D0D0" stroke="#2B2B2B" stroke-width="2.85"/>
<text class="st" x="683.65" y="135" text-anchor="middle">1</text>
<text class="st" transform="translate(1297.3,327.95) rotate(90)" text-anchor="middle">Original Curves</text>
<text class="st" transform="translate(1297.3,699.1) rotate(90)" text-anchor="middle">Aligned Curves</text>
<line class="tk" x1="76.2" x2="83.2" y1="228.40" y2="228.40"/>
<text class="tl" x="70" y="237.60" text-anchor="end">1</text>
<line class="tk" x1="76.2" x2="83.2" y1="311.00" y2="311.00"/>
<text class="tl" x="70" y="320.20" text-anchor="end">0</text>
<line class="tk" x1="76.2" x2="83.2" y1="393.60" y2="393.60"/>
<text class="tl" x="70" y="402.80" text-anchor="end">-1</text>
<line class="tk" x1="76.2" x2="83.2" y1="476.20" y2="476.20"/>
<text class="tl" x="70" y="485.40" text-anchor="end">-2</text>
<line class="tk" x1="76.2" x2="83.2" y1="599.40" y2="599.40"/>
<text class="tl" x="70" y="608.60" text-anchor="end">1</text>
<line class="tk" x1="76.2" x2="83.2" y1="682.00" y2="682.00"/>
<text class="tl" x="70" y="691.20" text-anchor="end">0</text>
<line class="tk" x1="76.2" x2="83.2" y1="764.60" y2="764.60"/>
<text class="tl" x="70" y="773.80" text-anchor="end">-1</text>
<line class="tk" x1="76.2" x2="83.2" y1="847.20" y2="847.20"/>
<text class="tl" x="70" y="856.40" text-anchor="end">-2</text>
<line class="tk" x1="227.40" x2="227.40" y1="875.9" y2="883.1999999999999"/>
<text class="tl" x="227.40" y="906" text-anchor="middle">0</text>
<line class="tk" x1="464.68" x2="464.68" y1="875.9" y2="883.1999999999999"/>
<text class="tl" x="464.68" y="906" text-anchor="middle">2</text>
<line class="tk" x1="701.96" x2="701.96" y1="875.9" y2="883.1999999999999"/>
<text class="tl" x="701.96" y="906" text-anchor="middle">4</text>
<line class="tk" x1="939.24" x2="939.24" y1="875.9" y2="883.1999999999999"/>
<text class="tl" x="939.24" y="906" text-anchor="middle">6</text>
<line class="tk" x1="1176.52" x2="1176.52" y1="875.9" y2="883.1999999999999"/>
<text class="tl" x="1176.52" y="906" text-anchor="middle">8</text>
<text class="al" x="683.65" y="940" text-anchor="middle">Observation Grid</text>
<text class="al" transform="translate(36.3,513.0) rotate(-90)" text-anchor="middle">Component Values</text>
<text x="82.6" y="39.7" style="font-size:35.2px;fill:#000">Functional Data</text>
<text class="al" x="82.9" y="82.6">Class of warping functions: AFFINE</text>
</svg></body></html>
